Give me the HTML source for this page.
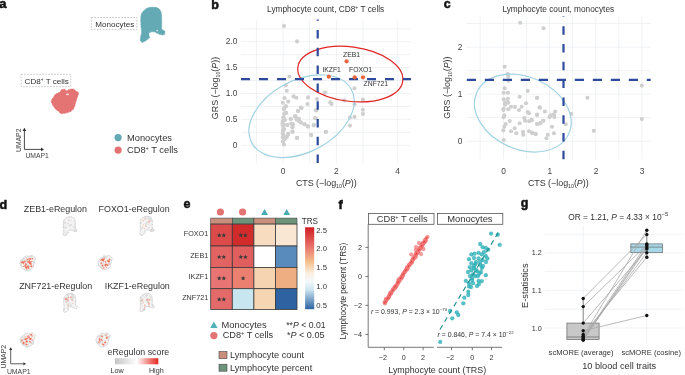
<!DOCTYPE html>
<html><head><meta charset="utf-8"><style>
html,body{margin:0;padding:0;background:#fff;}
svg{display:block;font-family:"Liberation Sans", sans-serif;will-change:transform;}
</style></head><body>
<svg width="685" height="375" viewBox="0 0 685 375">
<text x="-0.8" y="8.2" font-size="13" fill="#111" text-anchor="start" font-weight="bold" stroke="#111" stroke-width="0.5">a</text><rect x="91.4" y="17.5" width="45.5" height="12.1" fill="none" stroke="#b0b0b0" stroke-width="0.7" stroke-dasharray="1.6 1.4"/><text x="95.2" y="26.9" font-size="8.1" fill="#333" text-anchor="start" font-weight="normal" >Monocytes</text><rect x="21.2" y="74.3" width="49.6" height="12.4" fill="none" stroke="#b0b0b0" stroke-width="0.7" stroke-dasharray="1.6 1.4"/><text x="24.6" y="84.1" font-size="8.1" fill="#333" text-anchor="start" font-weight="normal" >CD8<tspan font-size="4.7" dy="-3.1">+</tspan><tspan dy="3.1"> T cells</tspan></text><path d="M152.00,7.30 C153.33,7.28 155.20,7.18 156.50,7.60 C157.80,8.02 158.98,8.73 159.80,9.80 C160.62,10.87 161.08,12.30 161.40,14.00 C161.72,15.70 161.65,18.00 161.70,20.00 C161.75,22.00 161.65,24.40 161.70,26.00 C161.75,27.60 161.55,28.80 162.00,29.60 C162.45,30.40 163.93,30.15 164.40,30.80 C164.87,31.45 165.05,32.80 164.80,33.50 C164.55,34.20 164.07,35.00 162.90,35.00 C161.73,35.00 159.15,34.00 157.80,33.50 C156.45,33.00 156.00,32.25 154.80,32.00 C153.60,31.75 151.60,31.70 150.60,32.00 C149.60,32.30 149.00,32.90 148.80,33.80 C148.60,34.70 149.70,36.40 149.40,37.40 C149.10,38.40 148.10,39.00 147.00,39.80 C145.90,40.60 143.90,42.10 142.80,42.20 C141.70,42.30 140.73,41.40 140.40,40.40 C140.07,39.40 140.60,37.60 140.80,36.20 C141.00,34.80 141.57,33.70 141.60,32.00 C141.63,30.30 141.13,28.40 141.00,26.00 C140.87,23.60 140.63,19.77 140.80,17.60 C140.97,15.43 141.27,14.35 142.00,13.00 C142.73,11.65 144.12,10.38 145.20,9.50 C146.28,8.62 147.37,8.07 148.50,7.70 C149.63,7.33 150.67,7.32 152.00,7.30 Z" fill="#64aab4" stroke="#64aab4" stroke-width="1.0" stroke-linecap="round" stroke-dasharray="0.2 1.4"/><path d="M61.30,89.90 C61.90,89.65 63.58,89.15 64.50,89.30 C65.42,89.45 65.97,90.78 66.80,90.80 C67.63,90.82 68.37,89.65 69.50,89.40 C70.63,89.15 72.47,88.98 73.60,89.30 C74.73,89.62 75.48,90.67 76.30,91.30 C77.12,91.93 78.35,92.05 78.50,93.10 C78.65,94.15 77.65,96.10 77.20,97.60 C76.75,99.10 76.25,100.58 75.80,102.10 C75.35,103.62 75.10,105.33 74.50,106.70 C73.90,108.07 73.33,109.32 72.20,110.30 C71.07,111.28 69.52,112.07 67.70,112.60 C65.88,113.13 62.82,113.73 61.30,113.50 C59.78,113.27 59.50,111.88 58.60,111.20 C57.70,110.52 56.80,110.30 55.90,109.40 C55.00,108.50 53.97,107.17 53.20,105.80 C52.43,104.43 51.30,102.57 51.30,101.20 C51.30,99.83 52.43,98.80 53.20,97.60 C53.97,96.40 54.85,94.83 55.90,94.00 C56.95,93.17 58.67,93.13 59.50,92.60 C60.33,92.07 60.60,91.25 60.90,90.80 C61.20,90.35 60.70,90.15 61.30,89.90 Z" fill="#e47373" stroke="#e47373" stroke-width="1.0" stroke-linecap="round" stroke-dasharray="0.2 1.4"/><ellipse cx="67.5" cy="94.4" rx="1.6" ry="0.8" fill="#f7dede"/><circle cx="157.2" cy="30.6" r="0.8" fill="#d8eaed"/><path d="M24.4,149.4 V130.5 M24.4,149.4 H41.5" stroke="#333" stroke-width="0.9" fill="none"/><path d="M22.5,131 L24.4,127.8 L26.3,131 Z M41,147.5 L44,149.4 L41,151.3 Z" fill="#333"/><text x="25.4" y="158.4" font-size="6.8" fill="#444" text-anchor="start" font-weight="normal" >UMAP1</text><text transform="translate(21,152) rotate(-90)" font-size="6.8" fill="#444">UMAP2</text><circle cx="118.1" cy="137.6" r="3.6" fill="#64aab4"/><circle cx="118.1" cy="150.1" r="3.6" fill="#e47373"/><text x="127" y="140.9" font-size="9.3" fill="#333" text-anchor="start" font-weight="normal" >Monocytes</text><text x="127" y="153.3" font-size="9.3" fill="#333" text-anchor="start" font-weight="normal" >CD8<tspan font-size="5.5" dy="-3.5">+</tspan><tspan dy="3.5"> T cells</tspan></text><text x="211.2" y="9.2" font-size="12.5" fill="#111" text-anchor="start" font-weight="bold" stroke="#111" stroke-width="0.5">b</text><text x="325.7" y="12.2" font-size="8.3" fill="#333" text-anchor="middle" font-weight="normal" >Lymphocyte count, CD8<tspan font-size="5" dy="-3">+</tspan><tspan dy="3"> T cells</tspan></text><line x1="256.4" y1="19.6" x2="256.4" y2="163.3" stroke="#eaecef" stroke-width="0.7"/><line x1="283.2" y1="19.6" x2="283.2" y2="163.3" stroke="#eaecef" stroke-width="0.7"/><line x1="309.6" y1="19.6" x2="309.6" y2="163.3" stroke="#eaecef" stroke-width="0.7"/><line x1="336.4" y1="19.6" x2="336.4" y2="163.3" stroke="#eaecef" stroke-width="0.7"/><line x1="362.9" y1="19.6" x2="362.9" y2="163.3" stroke="#eaecef" stroke-width="0.7"/><line x1="397.7" y1="19.6" x2="397.7" y2="163.3" stroke="#eaecef" stroke-width="0.7"/><line x1="241" y1="28.7" x2="411" y2="28.7" stroke="#eaecef" stroke-width="0.7"/><line x1="241" y1="41.66" x2="411" y2="41.66" stroke="#eaecef" stroke-width="0.7"/><line x1="241" y1="54.620000000000005" x2="411" y2="54.620000000000005" stroke="#eaecef" stroke-width="0.7"/><line x1="241" y1="67.58" x2="411" y2="67.58" stroke="#eaecef" stroke-width="0.7"/><line x1="241" y1="80.54" x2="411" y2="80.54" stroke="#eaecef" stroke-width="0.7"/><line x1="241" y1="93.50000000000001" x2="411" y2="93.50000000000001" stroke="#eaecef" stroke-width="0.7"/><line x1="241" y1="106.46000000000001" x2="411" y2="106.46000000000001" stroke="#eaecef" stroke-width="0.7"/><line x1="241" y1="119.42" x2="411" y2="119.42" stroke="#eaecef" stroke-width="0.7"/><line x1="241" y1="132.38" x2="411" y2="132.38" stroke="#eaecef" stroke-width="0.7"/><line x1="241" y1="145.34" x2="411" y2="145.34" stroke="#eaecef" stroke-width="0.7"/><text x="237.5" y="44.0" font-size="8.4" fill="#444" text-anchor="end" font-weight="normal" >2.0</text><text x="237.5" y="69.89999999999999" font-size="8.4" fill="#444" text-anchor="end" font-weight="normal" >1.5</text><text x="237.5" y="95.8" font-size="8.4" fill="#444" text-anchor="end" font-weight="normal" >1.0</text><text x="237.5" y="121.6" font-size="8.4" fill="#444" text-anchor="end" font-weight="normal" >0.5</text><text x="237.5" y="147.5" font-size="8.4" fill="#444" text-anchor="end" font-weight="normal" >0</text><text x="283.2" y="173.9" font-size="8.4" fill="#444" text-anchor="middle" font-weight="normal" >0</text><text x="336.4" y="173.9" font-size="8.4" fill="#444" text-anchor="middle" font-weight="normal" >2</text><text x="397.7" y="173.9" font-size="8.4" fill="#444" text-anchor="middle" font-weight="normal" >4</text><text x="326.3" y="185.5" font-size="8.9" fill="#333" text-anchor="middle" font-weight="normal" >CTS (−log<tspan font-size="5.2" dy="2">10</tspan><tspan dy="-2">(</tspan><tspan font-style="italic">P</tspan>))</text><text transform="translate(218,88) rotate(-90)" font-size="8.9" fill="#333" text-anchor="middle">GRS (−log<tspan font-size="5.2" dy="2">10</tspan><tspan dy="-2">(</tspan><tspan font-style="italic">P</tspan>))</text><circle cx="284.0" cy="26.0" r="2.05" fill="#cfcfcf"/><circle cx="297.0" cy="41.4" r="2.05" fill="#cfcfcf"/><circle cx="289.4" cy="76.6" r="2.05" fill="#cfcfcf"/><circle cx="285.8" cy="85.4" r="2.05" fill="#cfcfcf"/><circle cx="286.8" cy="90.8" r="2.05" fill="#cfcfcf"/><circle cx="293.6" cy="96.4" r="2.05" fill="#cfcfcf"/><circle cx="296.4" cy="97.7" r="2.05" fill="#cfcfcf"/><circle cx="284.6" cy="98.0" r="2.05" fill="#cfcfcf"/><circle cx="288.2" cy="101.6" r="2.05" fill="#cfcfcf"/><circle cx="282.8" cy="102.8" r="2.05" fill="#cfcfcf"/><circle cx="308.0" cy="97.4" r="2.05" fill="#cfcfcf"/><circle cx="307.4" cy="104.0" r="2.05" fill="#cfcfcf"/><circle cx="317.0" cy="99.0" r="2.05" fill="#cfcfcf"/><circle cx="285.8" cy="106.4" r="2.05" fill="#cfcfcf"/><circle cx="284.0" cy="108.2" r="2.05" fill="#cfcfcf"/><circle cx="300.8" cy="107.6" r="2.05" fill="#cfcfcf"/><circle cx="324.9" cy="92.7" r="2.05" fill="#cfcfcf"/><circle cx="330.3" cy="102.2" r="2.05" fill="#cfcfcf"/><circle cx="331.5" cy="103.9" r="2.05" fill="#cfcfcf"/><circle cx="286.1" cy="112.9" r="2.05" fill="#cfcfcf"/><circle cx="301.5" cy="107.7" r="2.05" fill="#cfcfcf"/><circle cx="298.1" cy="111.2" r="2.05" fill="#cfcfcf"/><circle cx="315.9" cy="110.3" r="2.05" fill="#cfcfcf"/><circle cx="283.5" cy="117.8" r="2.05" fill="#cfcfcf"/><circle cx="295.6" cy="116.0" r="2.05" fill="#cfcfcf"/><circle cx="290.8" cy="119.0" r="2.05" fill="#cfcfcf"/><circle cx="296.9" cy="118.5" r="2.05" fill="#cfcfcf"/><circle cx="298.6" cy="120.7" r="2.05" fill="#cfcfcf"/><circle cx="315.0" cy="118.1" r="2.05" fill="#cfcfcf"/><circle cx="282.5" cy="123.3" r="2.05" fill="#cfcfcf"/><circle cx="287.3" cy="125.0" r="2.05" fill="#cfcfcf"/><circle cx="292.5" cy="124.2" r="2.05" fill="#cfcfcf"/><circle cx="300.8" cy="122.5" r="2.05" fill="#cfcfcf"/><circle cx="304.7" cy="124.2" r="2.05" fill="#cfcfcf"/><circle cx="307.8" cy="126.4" r="2.05" fill="#cfcfcf"/><circle cx="313.7" cy="125.4" r="2.05" fill="#cfcfcf"/><circle cx="283.0" cy="130.3" r="2.05" fill="#cfcfcf"/><circle cx="292.5" cy="126.8" r="2.05" fill="#cfcfcf"/><circle cx="292.5" cy="132.0" r="2.05" fill="#cfcfcf"/><circle cx="288.2" cy="134.6" r="2.05" fill="#cfcfcf"/><circle cx="325.8" cy="132.0" r="2.05" fill="#cfcfcf"/><circle cx="311.2" cy="135.1" r="2.05" fill="#cfcfcf"/><circle cx="296.9" cy="138.1" r="2.05" fill="#cfcfcf"/><circle cx="283.0" cy="137.2" r="2.05" fill="#cfcfcf"/><circle cx="286.5" cy="137.2" r="2.05" fill="#cfcfcf"/><circle cx="283.0" cy="141.5" r="2.05" fill="#cfcfcf"/><circle cx="324.7" cy="92.6" r="2.05" fill="#cfcfcf"/><circle cx="344.3" cy="100.4" r="2.05" fill="#cfcfcf"/><circle cx="354.5" cy="88.3" r="2.05" fill="#cfcfcf"/><circle cx="354.5" cy="104.2" r="2.05" fill="#cfcfcf"/><circle cx="362.9" cy="99.5" r="2.05" fill="#cfcfcf"/><circle cx="362.9" cy="109.8" r="2.05" fill="#cfcfcf"/><circle cx="362.9" cy="113.9" r="2.05" fill="#cfcfcf"/><circle cx="349.9" cy="117.6" r="2.05" fill="#cfcfcf"/><circle cx="354.5" cy="116.9" r="2.05" fill="#cfcfcf"/><circle cx="349.9" cy="125.6" r="2.05" fill="#cfcfcf"/><circle cx="326.0" cy="131.8" r="2.05" fill="#cfcfcf"/><circle cx="284.0" cy="144.5" r="2.05" fill="#cfcfcf"/><circle cx="283.5" cy="128.0" r="2.05" fill="#cfcfcf"/><circle cx="285.0" cy="120.0" r="2.05" fill="#cfcfcf"/><circle cx="284.0" cy="114.0" r="2.05" fill="#cfcfcf"/><circle cx="285.8" cy="106.2" r="2.05" fill="#cfcfcf"/><circle cx="284.0" cy="109.2" r="2.05" fill="#cfcfcf"/><circle cx="285.8" cy="112.8" r="2.05" fill="#cfcfcf"/><circle cx="301.4" cy="108.0" r="2.05" fill="#cfcfcf"/><circle cx="297.8" cy="111.0" r="2.05" fill="#cfcfcf"/><circle cx="283.4" cy="117.6" r="2.05" fill="#cfcfcf"/><circle cx="290.6" cy="118.8" r="2.05" fill="#cfcfcf"/><circle cx="294.8" cy="116.4" r="2.05" fill="#cfcfcf"/><circle cx="296.6" cy="119.4" r="2.05" fill="#cfcfcf"/><circle cx="299.0" cy="118.8" r="2.05" fill="#cfcfcf"/><circle cx="282.8" cy="121.2" r="2.05" fill="#cfcfcf"/><circle cx="282.8" cy="124.2" r="2.05" fill="#cfcfcf"/><circle cx="287.0" cy="124.8" r="2.05" fill="#cfcfcf"/><circle cx="291.2" cy="123.6" r="2.05" fill="#cfcfcf"/><circle cx="293.0" cy="124.2" r="2.05" fill="#cfcfcf"/><circle cx="300.8" cy="122.4" r="2.05" fill="#cfcfcf"/><circle cx="304.4" cy="124.2" r="2.05" fill="#cfcfcf"/><circle cx="308.0" cy="126.6" r="2.05" fill="#cfcfcf"/><circle cx="292.4" cy="127.2" r="2.05" fill="#cfcfcf"/><circle cx="284.0" cy="129.6" r="2.05" fill="#cfcfcf"/><circle cx="292.4" cy="131.4" r="2.05" fill="#cfcfcf"/><circle cx="282.8" cy="133.2" r="2.05" fill="#cfcfcf"/><circle cx="288.2" cy="133.8" r="2.05" fill="#cfcfcf"/><circle cx="282.8" cy="137.4" r="2.05" fill="#cfcfcf"/><circle cx="286.4" cy="137.4" r="2.05" fill="#cfcfcf"/><circle cx="297.2" cy="137.7" r="2.05" fill="#cfcfcf"/><circle cx="282.8" cy="141.6" r="2.05" fill="#cfcfcf"/><circle cx="311.0" cy="134.8" r="2.05" fill="#cfcfcf"/><circle cx="314.0" cy="124.8" r="2.05" fill="#cfcfcf"/><circle cx="315.8" cy="118.2" r="2.05" fill="#cfcfcf"/><circle cx="316.4" cy="110.4" r="2.05" fill="#cfcfcf"/><circle cx="283.0" cy="126.0" r="2.05" fill="#cfcfcf"/><circle cx="283.5" cy="135.5" r="2.05" fill="#cfcfcf"/><circle cx="284.5" cy="139.5" r="2.05" fill="#cfcfcf"/><ellipse cx="301.6" cy="116.22" rx="56.5" ry="35.9" transform="rotate(-28.12 301.6 116.22)" fill="none" stroke="#a2d2e2" stroke-width="1.2"/><ellipse cx="350.32" cy="74.08" rx="52.9" ry="27.15" transform="rotate(7.64 350.32 74.08)" fill="none" stroke="#e02626" stroke-width="1.2"/><line x1="317.7" y1="19.6" x2="317.7" y2="163.3" stroke="#2d4a9c" stroke-width="2.2" stroke-dasharray="8.5 9.3" stroke-dashoffset="7.4"/><line x1="241" y1="79.1" x2="411" y2="79.1" stroke="#2d4a9c" stroke-width="2.2" stroke-dasharray="9 9"/><circle cx="346.6" cy="61.3" r="2.1" fill="#e8653c"/><circle cx="328.8" cy="76.7" r="2.1" fill="#e8653c"/><circle cx="354.7" cy="77.3" r="2.1" fill="#e8653c"/><circle cx="363.0" cy="77.3" r="2.1" fill="#e8653c"/><text x="343" y="57.4" font-size="6.8" fill="#333" text-anchor="start" font-weight="normal" >ZEB1</text><text x="322.4" y="72.4" font-size="6.8" fill="#333" text-anchor="start" font-weight="normal" >IKZF1</text><text x="349" y="72.4" font-size="6.8" fill="#333" text-anchor="start" font-weight="normal" >FOXO1</text><text x="363.6" y="85.8" font-size="6.8" fill="#333" text-anchor="start" font-weight="normal" >ZNF721</text><text x="443.8" y="7.8" font-size="12.5" fill="#111" text-anchor="start" font-weight="bold" stroke="#111" stroke-width="0.5">c</text><text x="558.3" y="12" font-size="8.3" fill="#333" text-anchor="middle" font-weight="normal" >Lymphocyte count, monocytes</text><line x1="480.2" y1="16.4" x2="480.2" y2="159.3" stroke="#eaecef" stroke-width="0.7"/><line x1="503.5" y1="16.4" x2="503.5" y2="159.3" stroke="#eaecef" stroke-width="0.7"/><line x1="526.6" y1="16.4" x2="526.6" y2="159.3" stroke="#eaecef" stroke-width="0.7"/><line x1="549.6" y1="16.4" x2="549.6" y2="159.3" stroke="#eaecef" stroke-width="0.7"/><line x1="572.6" y1="16.4" x2="572.6" y2="159.3" stroke="#eaecef" stroke-width="0.7"/><line x1="595.7" y1="16.4" x2="595.7" y2="159.3" stroke="#eaecef" stroke-width="0.7"/><line x1="618.8" y1="16.4" x2="618.8" y2="159.3" stroke="#eaecef" stroke-width="0.7"/><line x1="641.8" y1="16.4" x2="641.8" y2="159.3" stroke="#eaecef" stroke-width="0.7"/><line x1="466.8" y1="23.5" x2="650.7" y2="23.5" stroke="#eaecef" stroke-width="0.7"/><line x1="466.8" y1="47.2" x2="650.7" y2="47.2" stroke="#eaecef" stroke-width="0.7"/><line x1="466.8" y1="70.7" x2="650.7" y2="70.7" stroke="#eaecef" stroke-width="0.7"/><line x1="466.8" y1="94.1" x2="650.7" y2="94.1" stroke="#eaecef" stroke-width="0.7"/><line x1="466.8" y1="117.5" x2="650.7" y2="117.5" stroke="#eaecef" stroke-width="0.7"/><line x1="466.8" y1="141.3" x2="650.7" y2="141.3" stroke="#eaecef" stroke-width="0.7"/><text x="462.3" y="49.800000000000004" font-size="8.4" fill="#444" text-anchor="end" font-weight="normal" >2</text><text x="462.3" y="96.69999999999999" font-size="8.4" fill="#444" text-anchor="end" font-weight="normal" >1</text><text x="462.3" y="143.9" font-size="8.4" fill="#444" text-anchor="end" font-weight="normal" >0</text><text x="503.6" y="173.9" font-size="8.4" fill="#444" text-anchor="middle" font-weight="normal" >0</text><text x="549.8" y="173.9" font-size="8.4" fill="#444" text-anchor="middle" font-weight="normal" >1</text><text x="596.0" y="173.9" font-size="8.4" fill="#444" text-anchor="middle" font-weight="normal" >2</text><text x="642.0" y="173.9" font-size="8.4" fill="#444" text-anchor="middle" font-weight="normal" >3</text><text x="558.3" y="185.5" font-size="8.9" fill="#333" text-anchor="middle" font-weight="normal" >CTS (−log<tspan font-size="5.2" dy="2">10</tspan><tspan dy="-2">(</tspan><tspan font-style="italic">P</tspan>))</text><text transform="translate(450.4,87.6) rotate(-90)" font-size="8.9" fill="#333" text-anchor="middle">GRS (−log<tspan font-size="5.2" dy="2">10</tspan><tspan dy="-2">(</tspan><tspan font-style="italic">P</tspan>))</text><circle cx="520.2" cy="22.8" r="2.05" fill="#cfcfcf"/><circle cx="543.5" cy="28.3" r="2.05" fill="#cfcfcf"/><circle cx="504.6" cy="66.7" r="2.05" fill="#cfcfcf"/><circle cx="507.7" cy="74.0" r="2.05" fill="#cfcfcf"/><circle cx="508.3" cy="76.7" r="2.05" fill="#cfcfcf"/><circle cx="508.3" cy="80.7" r="2.05" fill="#cfcfcf"/><circle cx="504.6" cy="88.3" r="2.05" fill="#cfcfcf"/><circle cx="503.7" cy="92.7" r="2.05" fill="#cfcfcf"/><circle cx="507.9" cy="92.7" r="2.05" fill="#cfcfcf"/><circle cx="527.7" cy="90.9" r="2.05" fill="#cfcfcf"/><circle cx="519.7" cy="96.7" r="2.05" fill="#cfcfcf"/><circle cx="537.0" cy="98.0" r="2.05" fill="#cfcfcf"/><circle cx="503.7" cy="99.3" r="2.05" fill="#cfcfcf"/><circle cx="507.9" cy="98.7" r="2.05" fill="#cfcfcf"/><circle cx="505.0" cy="102.7" r="2.05" fill="#cfcfcf"/><circle cx="508.3" cy="102.7" r="2.05" fill="#cfcfcf"/><circle cx="526.0" cy="103.3" r="2.05" fill="#cfcfcf"/><circle cx="511.0" cy="106.7" r="2.05" fill="#cfcfcf"/><circle cx="515.0" cy="106.9" r="2.05" fill="#cfcfcf"/><circle cx="521.7" cy="106.7" r="2.05" fill="#cfcfcf"/><circle cx="539.7" cy="107.3" r="2.05" fill="#cfcfcf"/><circle cx="503.7" cy="108.7" r="2.05" fill="#cfcfcf"/><circle cx="507.0" cy="102.0" r="2.05" fill="#cfcfcf"/><circle cx="505.0" cy="104.7" r="2.05" fill="#cfcfcf"/><circle cx="508.3" cy="109.3" r="2.05" fill="#cfcfcf"/><circle cx="519.0" cy="110.0" r="2.05" fill="#cfcfcf"/><circle cx="503.3" cy="110.0" r="2.05" fill="#cfcfcf"/><circle cx="527.7" cy="112.0" r="2.05" fill="#cfcfcf"/><circle cx="529.0" cy="113.3" r="2.05" fill="#cfcfcf"/><circle cx="537.0" cy="115.0" r="2.05" fill="#cfcfcf"/><circle cx="504.3" cy="115.3" r="2.05" fill="#cfcfcf"/><circle cx="503.7" cy="117.3" r="2.05" fill="#cfcfcf"/><circle cx="524.3" cy="118.0" r="2.05" fill="#cfcfcf"/><circle cx="509.7" cy="121.0" r="2.05" fill="#cfcfcf"/><circle cx="525.0" cy="120.7" r="2.05" fill="#cfcfcf"/><circle cx="529.0" cy="121.3" r="2.05" fill="#cfcfcf"/><circle cx="531.7" cy="120.3" r="2.05" fill="#cfcfcf"/><circle cx="519.7" cy="123.3" r="2.05" fill="#cfcfcf"/><circle cx="505.7" cy="124.0" r="2.05" fill="#cfcfcf"/><circle cx="504.3" cy="126.7" r="2.05" fill="#cfcfcf"/><circle cx="537.0" cy="124.0" r="2.05" fill="#cfcfcf"/><circle cx="540.3" cy="123.3" r="2.05" fill="#cfcfcf"/><circle cx="543.0" cy="120.7" r="2.05" fill="#cfcfcf"/><circle cx="514.7" cy="128.3" r="2.05" fill="#cfcfcf"/><circle cx="511.0" cy="131.3" r="2.05" fill="#cfcfcf"/><circle cx="516.3" cy="133.3" r="2.05" fill="#cfcfcf"/><circle cx="503.3" cy="130.4" r="2.05" fill="#cfcfcf"/><circle cx="523.0" cy="131.7" r="2.05" fill="#cfcfcf"/><circle cx="523.3" cy="134.7" r="2.05" fill="#cfcfcf"/><circle cx="529.0" cy="131.3" r="2.05" fill="#cfcfcf"/><circle cx="532.3" cy="133.3" r="2.05" fill="#cfcfcf"/><circle cx="535.7" cy="134.0" r="2.05" fill="#cfcfcf"/><circle cx="503.7" cy="140.0" r="2.05" fill="#cfcfcf"/><circle cx="537.1" cy="97.8" r="2.05" fill="#cfcfcf"/><circle cx="539.7" cy="107.7" r="2.05" fill="#cfcfcf"/><circle cx="544.9" cy="111.5" r="2.05" fill="#cfcfcf"/><circle cx="537.1" cy="114.6" r="2.05" fill="#cfcfcf"/><circle cx="550.5" cy="115.2" r="2.05" fill="#cfcfcf"/><circle cx="553.9" cy="114.3" r="2.05" fill="#cfcfcf"/><circle cx="555.2" cy="111.5" r="2.05" fill="#cfcfcf"/><circle cx="549.6" cy="117.1" r="2.05" fill="#cfcfcf"/><circle cx="554.3" cy="117.1" r="2.05" fill="#cfcfcf"/><circle cx="531.5" cy="119.9" r="2.05" fill="#cfcfcf"/><circle cx="543.4" cy="120.8" r="2.05" fill="#cfcfcf"/><circle cx="537.5" cy="124.0" r="2.05" fill="#cfcfcf"/><circle cx="540.3" cy="123.2" r="2.05" fill="#cfcfcf"/><circle cx="552.0" cy="126.8" r="2.05" fill="#cfcfcf"/><circle cx="571.4" cy="113.9" r="2.05" fill="#cfcfcf"/><circle cx="565.8" cy="124.2" r="2.05" fill="#cfcfcf"/><circle cx="587.5" cy="97.8" r="2.05" fill="#cfcfcf"/><circle cx="593.8" cy="130.7" r="2.05" fill="#cfcfcf"/><circle cx="531.9" cy="132.6" r="2.05" fill="#cfcfcf"/><circle cx="535.6" cy="133.9" r="2.05" fill="#cfcfcf"/><circle cx="547.7" cy="134.8" r="2.05" fill="#cfcfcf"/><circle cx="546.4" cy="138.2" r="2.05" fill="#cfcfcf"/><circle cx="553.9" cy="133.3" r="2.05" fill="#cfcfcf"/><circle cx="641.8" cy="85.6" r="2.05" fill="#cfcfcf"/><circle cx="641.8" cy="119.1" r="2.05" fill="#cfcfcf"/><ellipse cx="522.85" cy="113.06" rx="50.4" ry="36.2" transform="rotate(24.08 522.85 113.06)" fill="none" stroke="#a2d2e2" stroke-width="1.2"/><line x1="563.5" y1="16.4" x2="563.5" y2="159.3" stroke="#2d4a9c" stroke-width="2.2" stroke-dasharray="8.5 9.3" stroke-dashoffset="8.0"/><line x1="466.8" y1="79.9" x2="650.7" y2="79.9" stroke="#2d4a9c" stroke-width="2.2" stroke-dasharray="9.2 8.8"/><defs><filter id="bl" x="-50%" y="-50%" width="200%" height="200%"><feGaussianBlur stdDeviation="0.35"/></filter></defs><text x="-0.5" y="208.6" font-size="12.5" fill="#111" text-anchor="start" font-weight="bold" stroke="#111" stroke-width="0.5">d</text><text x="23.8" y="212.0" font-size="8.9" fill="#333" text-anchor="start" font-weight="normal" >ZEB1-eRegulon</text><text x="98.6" y="212.0" font-size="8.9" fill="#333" text-anchor="start" font-weight="normal" >FOXO1-eRegulon</text><text x="19.2" y="289.0" font-size="8.9" fill="#333" text-anchor="start" font-weight="normal" >ZNF721-eRegulon</text><text x="104.7" y="289.0" font-size="8.9" fill="#333" text-anchor="start" font-weight="normal" >IKZF1-eRegulon</text><path d="M69.76,216.90 C70.51,216.89 71.57,216.84 72.31,217.06 C73.04,217.28 73.71,217.67 74.17,218.24 C74.63,218.81 74.90,219.58 75.08,220.49 C75.26,221.40 75.22,222.63 75.25,223.70 C75.27,224.78 75.22,226.06 75.25,226.92 C75.27,227.78 75.16,228.42 75.42,228.85 C75.67,229.28 76.51,229.14 76.77,229.49 C77.04,229.84 77.14,230.56 77.00,230.94 C76.86,231.31 76.59,231.74 75.93,231.74 C75.27,231.74 73.80,231.21 73.04,230.94 C72.28,230.67 72.02,230.27 71.34,230.13 C70.67,230.00 69.53,229.97 68.97,230.13 C68.40,230.30 68.06,230.62 67.95,231.10 C67.84,231.58 68.46,232.49 68.29,233.03 C68.12,233.56 67.55,233.89 66.93,234.31 C66.31,234.74 65.18,235.55 64.56,235.60 C63.94,235.65 63.39,235.17 63.20,234.64 C63.01,234.10 63.31,233.14 63.43,232.39 C63.54,231.63 63.86,231.05 63.88,230.13 C63.90,229.22 63.61,228.21 63.54,226.92 C63.46,225.63 63.33,223.58 63.43,222.42 C63.52,221.26 63.69,220.68 64.10,219.95 C64.52,219.23 65.30,218.55 65.91,218.08 C66.53,217.61 67.14,217.31 67.78,217.11 C68.42,216.92 69.01,216.91 69.76,216.90 Z" fill="#f5f5f5" stroke="#b0b0b0" stroke-width="0.7" stroke-dasharray="0.9 0.5"/><circle cx="65.1" cy="232.7" r="1.13" fill="#d4d4d4" opacity="0.40"/><circle cx="70.0" cy="225.3" r="1.06" fill="#d4d4d4" opacity="0.62"/><circle cx="74.7" cy="225.0" r="1.13" fill="#d4d4d4" opacity="0.30"/><circle cx="66.4" cy="234.6" r="1.23" fill="#d4d4d4" opacity="0.31"/><circle cx="63.6" cy="227.0" r="1.26" fill="#d4d4d4" opacity="0.45"/><circle cx="66.2" cy="224.8" r="0.62" fill="#d4d4d4" opacity="0.39"/><circle cx="69.2" cy="226.2" r="0.76" fill="#d4d4d4" opacity="0.39"/><circle cx="66.2" cy="225.5" r="0.80" fill="#d4d4d4" opacity="0.31"/><circle cx="74.8" cy="227.3" r="1.05" fill="#d4d4d4" opacity="0.37"/><circle cx="64.9" cy="223.1" r="1.11" fill="#d4d4d4" opacity="0.58"/><circle cx="74.7" cy="229.4" r="0.81" fill="#d4d4d4" opacity="0.54"/><circle cx="70.2" cy="227.9" r="0.62" fill="#d4d4d4" opacity="0.40"/><circle cx="74.2" cy="224.6" r="0.72" fill="#d4d4d4" opacity="0.52"/><circle cx="72.9" cy="229.5" r="0.86" fill="#d4d4d4" opacity="0.48"/><circle cx="70.4" cy="224.3" r="0.94" fill="#d4d4d4" opacity="0.31"/><circle cx="68.6" cy="220.1" r="0.95" fill="#d4d4d4" opacity="0.69"/><circle cx="73.8" cy="227.0" r="1.20" fill="#d4d4d4" opacity="0.39"/><circle cx="71.2" cy="225.5" r="0.79" fill="#d4d4d4" opacity="0.52"/><circle cx="75.4" cy="230.7" r="1.17" fill="#d4d4d4" opacity="0.51"/><circle cx="70.9" cy="224.9" r="0.64" fill="#d4d4d4" opacity="0.65"/><circle cx="71.1" cy="220.6" r="0.95" fill="#d4d4d4" opacity="0.49"/><circle cx="68.1" cy="223.4" r="0.98" fill="#d4d4d4" opacity="0.55"/><circle cx="71.7" cy="225.5" r="0.62" fill="#d4d4d4" opacity="0.39"/><circle cx="65.6" cy="227.8" r="1.20" fill="#d4d4d4" opacity="0.62"/><circle cx="66.7" cy="232.6" r="1.07" fill="#d4d4d4" opacity="0.33"/><circle cx="73.6" cy="221.6" r="0.68" fill="#d4d4d4" opacity="0.55"/><circle cx="68.0" cy="218.2" r="0.71" fill="#d4d4d4" opacity="0.51"/><circle cx="65.5" cy="222.0" r="1.10" fill="#d4d4d4" opacity="0.48"/><circle cx="67.6" cy="225.8" r="0.42" fill="#ef5a3c" opacity="0.29" filter="url(#bl)"/><circle cx="69.0" cy="220.4" r="0.48" fill="#ef5a3c" opacity="0.46" filter="url(#bl)"/><path d="M25.64,256.27 C25.98,256.11 26.94,255.81 27.47,255.90 C28.00,255.99 28.31,256.81 28.79,256.82 C29.27,256.83 29.69,256.11 30.34,255.96 C30.99,255.81 32.04,255.71 32.69,255.90 C33.34,256.09 33.77,256.74 34.24,257.12 C34.71,257.51 35.41,257.58 35.50,258.22 C35.59,258.87 35.01,260.06 34.75,260.98 C34.50,261.89 34.21,262.80 33.95,263.73 C33.69,264.66 33.55,265.71 33.21,266.54 C32.86,267.38 32.54,268.14 31.89,268.74 C31.24,269.34 30.35,269.82 29.31,270.15 C28.26,270.48 26.51,270.84 25.64,270.70 C24.77,270.56 24.60,269.71 24.09,269.29 C23.57,268.88 23.05,268.74 22.54,268.19 C22.02,267.64 21.43,266.83 20.99,265.99 C20.55,265.16 19.90,264.01 19.90,263.18 C19.90,262.34 20.55,261.71 20.99,260.98 C21.43,260.24 21.94,259.28 22.54,258.77 C23.14,258.26 24.12,258.24 24.60,257.92 C25.08,257.59 25.23,257.09 25.41,256.82 C25.58,256.54 25.29,256.42 25.64,256.27 Z" fill="#f5f5f5" stroke="#b0b0b0" stroke-width="0.7" stroke-dasharray="0.9 0.5"/><circle cx="27.0" cy="264.2" r="1.25" fill="#d4d4d4" opacity="0.49"/><circle cx="27.8" cy="264.6" r="0.73" fill="#d4d4d4" opacity="0.50"/><circle cx="29.7" cy="267.6" r="0.67" fill="#d4d4d4" opacity="0.42"/><circle cx="30.7" cy="256.5" r="1.29" fill="#d4d4d4" opacity="0.69"/><circle cx="30.1" cy="265.0" r="0.71" fill="#d4d4d4" opacity="0.31"/><circle cx="28.1" cy="256.8" r="0.73" fill="#d4d4d4" opacity="0.40"/><circle cx="20.4" cy="262.8" r="0.91" fill="#d4d4d4" opacity="0.64"/><circle cx="28.0" cy="265.4" r="0.95" fill="#d4d4d4" opacity="0.56"/><circle cx="27.0" cy="260.0" r="1.30" fill="#d4d4d4" opacity="0.70"/><circle cx="33.0" cy="266.4" r="0.82" fill="#d4d4d4" opacity="0.39"/><circle cx="31.9" cy="261.8" r="1.19" fill="#d4d4d4" opacity="0.45"/><circle cx="34.1" cy="262.9" r="1.29" fill="#d4d4d4" opacity="0.46"/><circle cx="21.0" cy="265.2" r="1.14" fill="#d4d4d4" opacity="0.41"/><circle cx="21.3" cy="260.8" r="1.27" fill="#d4d4d4" opacity="0.60"/><circle cx="32.3" cy="258.5" r="0.99" fill="#d4d4d4" opacity="0.48"/><circle cx="22.9" cy="266.7" r="0.69" fill="#d4d4d4" opacity="0.56"/><circle cx="21.7" cy="262.1" r="0.75" fill="#d4d4d4" opacity="0.41"/><circle cx="24.6" cy="269.0" r="0.75" fill="#d4d4d4" opacity="0.46"/><circle cx="33.2" cy="265.4" r="0.67" fill="#d4d4d4" opacity="0.70"/><circle cx="23.2" cy="259.7" r="1.14" fill="#d4d4d4" opacity="0.43"/><circle cx="21.3" cy="264.5" r="0.77" fill="#d4d4d4" opacity="0.54"/><circle cx="25.7" cy="262.6" r="1.27" fill="#d4d4d4" opacity="0.49"/><circle cx="28.9" cy="268.7" r="0.73" fill="#d4d4d4" opacity="0.36"/><circle cx="23.8" cy="258.7" r="1.12" fill="#d4d4d4" opacity="0.68"/><circle cx="26.5" cy="257.4" r="0.63" fill="#d4d4d4" opacity="0.69"/><circle cx="23.6" cy="266.3" r="0.59" fill="#ef5a3c" opacity="0.76" filter="url(#bl)"/><circle cx="29.2" cy="260.2" r="0.53" fill="#ef5a3c" opacity="0.71" filter="url(#bl)"/><circle cx="28.6" cy="268.5" r="0.86" fill="#ef5a3c" opacity="0.49" filter="url(#bl)"/><circle cx="22.6" cy="261.4" r="0.83" fill="#ef5a3c" opacity="0.42" filter="url(#bl)"/><circle cx="30.7" cy="264.5" r="0.51" fill="#ef5a3c" opacity="0.37" filter="url(#bl)"/><circle cx="27.4" cy="266.7" r="0.64" fill="#ef5a3c" opacity="0.85" filter="url(#bl)"/><circle cx="31.4" cy="266.3" r="0.99" fill="#ef5a3c" opacity="0.81" filter="url(#bl)"/><circle cx="25.4" cy="266.0" r="1.08" fill="#ef5a3c" opacity="0.79" filter="url(#bl)"/><circle cx="26.4" cy="267.6" r="1.05" fill="#ef5a3c" opacity="0.64" filter="url(#bl)"/><circle cx="29.6" cy="261.6" r="0.84" fill="#ef5a3c" opacity="0.65" filter="url(#bl)"/><circle cx="31.3" cy="261.6" r="0.95" fill="#ef5a3c" opacity="0.64" filter="url(#bl)"/><circle cx="26.8" cy="268.3" r="0.46" fill="#ef5a3c" opacity="0.73" filter="url(#bl)"/><circle cx="27.4" cy="259.3" r="0.92" fill="#ef5a3c" opacity="0.60" filter="url(#bl)"/><circle cx="24.6" cy="265.9" r="0.55" fill="#ef5a3c" opacity="0.43" filter="url(#bl)"/><circle cx="26.8" cy="269.1" r="0.65" fill="#ef5a3c" opacity="0.68" filter="url(#bl)"/><circle cx="23.0" cy="262.3" r="1.00" fill="#ef5a3c" opacity="0.81" filter="url(#bl)"/><circle cx="29.0" cy="260.6" r="0.50" fill="#ef5a3c" opacity="0.60" filter="url(#bl)"/><circle cx="26.9" cy="260.0" r="0.56" fill="#ef5a3c" opacity="0.56" filter="url(#bl)"/><circle cx="29.7" cy="263.2" r="0.64" fill="#ef5a3c" opacity="0.77" filter="url(#bl)"/><circle cx="31.0" cy="264.3" r="0.63" fill="#ef5a3c" opacity="0.75" filter="url(#bl)"/><circle cx="32.8" cy="259.4" r="0.51" fill="#ef5a3c" opacity="0.37" filter="url(#bl)"/><circle cx="29.7" cy="262.5" r="0.87" fill="#ef5a3c" opacity="0.68" filter="url(#bl)"/><circle cx="30.6" cy="258.9" r="0.76" fill="#ef5a3c" opacity="0.44" filter="url(#bl)"/><circle cx="31.0" cy="258.6" r="0.60" fill="#ef5a3c" opacity="0.52" filter="url(#bl)"/><circle cx="30.8" cy="263.6" r="0.86" fill="#ef5a3c" opacity="0.73" filter="url(#bl)"/><circle cx="26.0" cy="267.6" r="1.08" fill="#ef5a3c" opacity="0.39" filter="url(#bl)"/><circle cx="21.9" cy="262.6" r="0.87" fill="#ef5a3c" opacity="0.80" filter="url(#bl)"/><circle cx="25.8" cy="264.3" r="1.06" fill="#ef5a3c" opacity="0.75" filter="url(#bl)"/><circle cx="30.1" cy="258.9" r="0.94" fill="#ef5a3c" opacity="0.76" filter="url(#bl)"/><circle cx="29.9" cy="266.5" r="0.56" fill="#ef5a3c" opacity="0.80" filter="url(#bl)"/><circle cx="28.3" cy="267.6" r="0.64" fill="#ef5a3c" opacity="0.80" filter="url(#bl)"/><circle cx="33.3" cy="261.1" r="0.46" fill="#ef5a3c" opacity="0.57" filter="url(#bl)"/><circle cx="28.5" cy="267.3" r="0.77" fill="#ef5a3c" opacity="0.36" filter="url(#bl)"/><circle cx="32.4" cy="258.5" r="0.65" fill="#ef5a3c" opacity="0.74" filter="url(#bl)"/><circle cx="28.0" cy="266.6" r="1.03" fill="#ef5a3c" opacity="0.69" filter="url(#bl)"/><circle cx="23.4" cy="263.7" r="0.62" fill="#ef5a3c" opacity="0.71" filter="url(#bl)"/><circle cx="29.9" cy="263.6" r="1.03" fill="#ef5a3c" opacity="0.63" filter="url(#bl)"/><circle cx="24.8" cy="261.5" r="1.03" fill="#ef5a3c" opacity="0.80" filter="url(#bl)"/><circle cx="28.8" cy="258.9" r="0.80" fill="#ef5a3c" opacity="0.60" filter="url(#bl)"/><circle cx="26.1" cy="267.8" r="0.82" fill="#ef5a3c" opacity="0.60" filter="url(#bl)"/><circle cx="28.3" cy="262.0" r="1.12" fill="#ef5a3c" opacity="0.81" filter="url(#bl)"/><circle cx="24.1" cy="262.9" r="0.50" fill="#ef5a3c" opacity="0.57" filter="url(#bl)"/><path d="M146.66,216.50 C147.42,216.49 148.49,216.44 149.24,216.66 C149.98,216.89 150.66,217.28 151.13,217.85 C151.60,218.43 151.87,219.21 152.05,220.13 C152.23,221.05 152.19,222.29 152.22,223.38 C152.25,224.46 152.19,225.76 152.22,226.63 C152.25,227.49 152.14,228.14 152.39,228.58 C152.65,229.01 153.50,228.87 153.77,229.23 C154.04,229.58 154.14,230.31 154.00,230.69 C153.86,231.07 153.58,231.50 152.91,231.50 C152.24,231.50 150.76,230.96 149.98,230.69 C149.21,230.42 148.95,230.01 148.26,229.88 C147.57,229.74 146.43,229.71 145.85,229.88 C145.28,230.04 144.93,230.36 144.82,230.85 C144.70,231.34 145.34,232.26 145.16,232.80 C144.99,233.34 144.42,233.67 143.79,234.10 C143.16,234.53 142.01,235.35 141.38,235.40 C140.75,235.45 140.19,234.97 140.00,234.43 C139.81,233.88 140.11,232.91 140.23,232.15 C140.34,231.39 140.67,230.80 140.69,229.88 C140.71,228.96 140.42,227.93 140.34,226.63 C140.27,225.33 140.13,223.25 140.23,222.08 C140.33,220.90 140.50,220.32 140.92,219.59 C141.34,218.86 142.13,218.17 142.75,217.69 C143.38,217.21 144.00,216.92 144.65,216.72 C145.30,216.52 145.89,216.51 146.66,216.50 Z" fill="#f5f5f5" stroke="#b0b0b0" stroke-width="0.7" stroke-dasharray="0.9 0.5"/><circle cx="151.7" cy="230.4" r="1.07" fill="#d4d4d4" opacity="0.42"/><circle cx="148.5" cy="228.0" r="1.01" fill="#d4d4d4" opacity="0.36"/><circle cx="146.0" cy="223.9" r="1.11" fill="#d4d4d4" opacity="0.70"/><circle cx="146.2" cy="221.6" r="0.63" fill="#d4d4d4" opacity="0.31"/><circle cx="146.5" cy="222.5" r="0.87" fill="#d4d4d4" opacity="0.66"/><circle cx="147.4" cy="227.1" r="0.77" fill="#d4d4d4" opacity="0.31"/><circle cx="144.6" cy="219.1" r="0.96" fill="#d4d4d4" opacity="0.70"/><circle cx="149.4" cy="219.9" r="1.23" fill="#d4d4d4" opacity="0.62"/><circle cx="150.6" cy="230.0" r="0.92" fill="#d4d4d4" opacity="0.51"/><circle cx="150.1" cy="225.7" r="0.76" fill="#d4d4d4" opacity="0.43"/><circle cx="149.8" cy="219.6" r="1.24" fill="#d4d4d4" opacity="0.41"/><circle cx="153.4" cy="229.8" r="0.95" fill="#d4d4d4" opacity="0.51"/><circle cx="149.1" cy="227.6" r="0.82" fill="#d4d4d4" opacity="0.38"/><circle cx="148.7" cy="217.9" r="1.17" fill="#d4d4d4" opacity="0.59"/><circle cx="150.4" cy="217.6" r="1.06" fill="#d4d4d4" opacity="0.41"/><circle cx="143.2" cy="233.0" r="0.67" fill="#d4d4d4" opacity="0.51"/><circle cx="152.0" cy="221.1" r="0.75" fill="#d4d4d4" opacity="0.65"/><circle cx="140.4" cy="223.3" r="0.72" fill="#d4d4d4" opacity="0.57"/><circle cx="141.2" cy="234.5" r="0.62" fill="#d4d4d4" opacity="0.59"/><circle cx="151.4" cy="219.5" r="0.73" fill="#d4d4d4" opacity="0.58"/><circle cx="145.4" cy="217.3" r="1.29" fill="#d4d4d4" opacity="0.36"/><circle cx="140.5" cy="223.0" r="1.03" fill="#d4d4d4" opacity="0.60"/><circle cx="141.6" cy="222.9" r="0.62" fill="#d4d4d4" opacity="0.48"/><circle cx="150.7" cy="230.5" r="1.23" fill="#d4d4d4" opacity="0.60"/><circle cx="152.1" cy="229.8" r="0.93" fill="#d4d4d4" opacity="0.39"/><circle cx="149.3" cy="222.5" r="0.67" fill="#d4d4d4" opacity="0.48"/><circle cx="148.2" cy="223.9" r="0.96" fill="#d4d4d4" opacity="0.36"/><circle cx="148.5" cy="224.4" r="0.61" fill="#d4d4d4" opacity="0.52"/><circle cx="141.3" cy="228.5" r="0.96" fill="#d4d4d4" opacity="0.69"/><circle cx="143.3" cy="224.9" r="0.59" fill="#ef5a3c" opacity="0.36" filter="url(#bl)"/><circle cx="149.9" cy="221.3" r="0.72" fill="#ef5a3c" opacity="0.33" filter="url(#bl)"/><circle cx="145.7" cy="218.6" r="0.94" fill="#ef5a3c" opacity="0.23" filter="url(#bl)"/><circle cx="143.2" cy="220.6" r="0.79" fill="#ef5a3c" opacity="0.31" filter="url(#bl)"/><circle cx="144.3" cy="228.6" r="0.56" fill="#ef5a3c" opacity="0.47" filter="url(#bl)"/><circle cx="146.1" cy="226.2" r="0.84" fill="#ef5a3c" opacity="0.17" filter="url(#bl)"/><circle cx="145.9" cy="226.4" r="0.54" fill="#ef5a3c" opacity="0.18" filter="url(#bl)"/><circle cx="148.5" cy="222.0" r="1.14" fill="#ef5a3c" opacity="0.28" filter="url(#bl)"/><circle cx="151.8" cy="229.2" r="0.41" fill="#ef5a3c" opacity="0.31" filter="url(#bl)"/><circle cx="145.7" cy="225.7" r="0.56" fill="#ef5a3c" opacity="0.36" filter="url(#bl)"/><circle cx="142.7" cy="227.3" r="0.69" fill="#ef5a3c" opacity="0.31" filter="url(#bl)"/><circle cx="150.6" cy="224.0" r="0.49" fill="#ef5a3c" opacity="0.19" filter="url(#bl)"/><path d="M103.16,256.15 C103.47,256.00 104.36,255.71 104.84,255.80 C105.32,255.89 105.61,256.66 106.05,256.67 C106.49,256.68 106.87,256.00 107.47,255.86 C108.06,255.71 109.03,255.62 109.62,255.80 C110.22,255.98 110.61,256.59 111.04,256.96 C111.47,257.32 112.12,257.39 112.20,258.00 C112.28,258.61 111.75,259.73 111.52,260.60 C111.28,261.47 111.02,262.33 110.78,263.20 C110.54,264.08 110.41,265.08 110.10,265.87 C109.78,266.66 109.48,267.38 108.89,267.95 C108.29,268.52 107.48,268.97 106.52,269.28 C105.57,269.59 103.95,269.93 103.16,269.80 C102.36,269.67 102.21,268.86 101.74,268.47 C101.26,268.07 100.79,267.95 100.32,267.43 C99.85,266.91 99.30,266.14 98.90,265.35 C98.50,264.55 97.90,263.47 97.90,262.68 C97.90,261.89 98.50,261.30 98.90,260.60 C99.30,259.91 99.77,259.00 100.32,258.52 C100.87,258.04 101.77,258.02 102.21,257.71 C102.65,257.40 102.79,256.93 102.95,256.67 C103.10,256.41 102.84,256.29 103.16,256.15 Z" fill="#f5f5f5" stroke="#b0b0b0" stroke-width="0.7" stroke-dasharray="0.9 0.5"/><circle cx="104.7" cy="265.0" r="1.07" fill="#d4d4d4" opacity="0.36"/><circle cx="101.8" cy="267.1" r="1.08" fill="#d4d4d4" opacity="0.54"/><circle cx="105.9" cy="265.1" r="0.70" fill="#d4d4d4" opacity="0.48"/><circle cx="99.0" cy="265.4" r="0.84" fill="#d4d4d4" opacity="0.46"/><circle cx="105.2" cy="257.1" r="1.29" fill="#d4d4d4" opacity="0.68"/><circle cx="99.5" cy="261.7" r="0.69" fill="#d4d4d4" opacity="0.43"/><circle cx="106.8" cy="258.1" r="1.09" fill="#d4d4d4" opacity="0.32"/><circle cx="100.3" cy="267.2" r="0.88" fill="#d4d4d4" opacity="0.47"/><circle cx="106.4" cy="262.5" r="0.87" fill="#d4d4d4" opacity="0.31"/><circle cx="103.0" cy="260.9" r="1.08" fill="#d4d4d4" opacity="0.57"/><circle cx="103.1" cy="263.0" r="1.17" fill="#d4d4d4" opacity="0.50"/><circle cx="104.1" cy="263.1" r="0.76" fill="#d4d4d4" opacity="0.47"/><circle cx="103.5" cy="266.6" r="0.67" fill="#d4d4d4" opacity="0.52"/><circle cx="100.4" cy="265.5" r="0.63" fill="#d4d4d4" opacity="0.41"/><circle cx="102.8" cy="264.7" r="0.64" fill="#d4d4d4" opacity="0.48"/><circle cx="100.9" cy="259.7" r="0.93" fill="#d4d4d4" opacity="0.68"/><circle cx="104.8" cy="269.2" r="0.72" fill="#d4d4d4" opacity="0.67"/><circle cx="103.1" cy="258.4" r="1.12" fill="#d4d4d4" opacity="0.66"/><circle cx="108.9" cy="260.6" r="0.77" fill="#d4d4d4" opacity="0.30"/><circle cx="105.1" cy="256.1" r="0.83" fill="#d4d4d4" opacity="0.61"/><circle cx="109.8" cy="264.8" r="0.76" fill="#d4d4d4" opacity="0.51"/><circle cx="104.7" cy="264.6" r="0.78" fill="#d4d4d4" opacity="0.68"/><circle cx="105.3" cy="265.5" r="0.93" fill="#ef5a3c" opacity="0.46" filter="url(#bl)"/><circle cx="102.0" cy="259.4" r="0.91" fill="#ef5a3c" opacity="0.70" filter="url(#bl)"/><circle cx="103.9" cy="259.2" r="0.73" fill="#ef5a3c" opacity="0.84" filter="url(#bl)"/><circle cx="105.9" cy="264.5" r="1.09" fill="#ef5a3c" opacity="0.83" filter="url(#bl)"/><circle cx="108.8" cy="261.6" r="0.84" fill="#ef5a3c" opacity="0.80" filter="url(#bl)"/><circle cx="109.2" cy="263.9" r="0.66" fill="#ef5a3c" opacity="0.53" filter="url(#bl)"/><circle cx="108.4" cy="263.7" r="0.41" fill="#ef5a3c" opacity="0.71" filter="url(#bl)"/><circle cx="105.5" cy="266.8" r="0.68" fill="#ef5a3c" opacity="0.40" filter="url(#bl)"/><circle cx="103.0" cy="260.2" r="1.10" fill="#ef5a3c" opacity="0.69" filter="url(#bl)"/><circle cx="105.6" cy="264.5" r="0.49" fill="#ef5a3c" opacity="0.62" filter="url(#bl)"/><circle cx="107.9" cy="261.3" r="0.58" fill="#ef5a3c" opacity="0.55" filter="url(#bl)"/><circle cx="102.5" cy="265.4" r="0.51" fill="#ef5a3c" opacity="0.40" filter="url(#bl)"/><circle cx="102.4" cy="265.5" r="0.97" fill="#ef5a3c" opacity="0.68" filter="url(#bl)"/><circle cx="104.2" cy="258.3" r="0.90" fill="#ef5a3c" opacity="0.52" filter="url(#bl)"/><circle cx="101.3" cy="260.4" r="1.11" fill="#ef5a3c" opacity="0.35" filter="url(#bl)"/><circle cx="103.1" cy="259.7" r="0.55" fill="#ef5a3c" opacity="0.57" filter="url(#bl)"/><circle cx="105.1" cy="265.6" r="0.52" fill="#ef5a3c" opacity="0.58" filter="url(#bl)"/><circle cx="106.6" cy="267.6" r="0.59" fill="#ef5a3c" opacity="0.58" filter="url(#bl)"/><circle cx="101.2" cy="263.3" r="0.97" fill="#ef5a3c" opacity="0.55" filter="url(#bl)"/><circle cx="107.5" cy="265.1" r="1.13" fill="#ef5a3c" opacity="0.63" filter="url(#bl)"/><circle cx="107.6" cy="260.7" r="0.95" fill="#ef5a3c" opacity="0.51" filter="url(#bl)"/><circle cx="105.0" cy="260.9" r="0.63" fill="#ef5a3c" opacity="0.42" filter="url(#bl)"/><circle cx="101.1" cy="263.4" r="0.59" fill="#ef5a3c" opacity="0.37" filter="url(#bl)"/><circle cx="109.4" cy="259.8" r="1.10" fill="#ef5a3c" opacity="0.65" filter="url(#bl)"/><circle cx="103.5" cy="268.0" r="1.07" fill="#ef5a3c" opacity="0.51" filter="url(#bl)"/><circle cx="109.1" cy="261.6" r="0.86" fill="#ef5a3c" opacity="0.48" filter="url(#bl)"/><circle cx="103.7" cy="261.1" r="0.69" fill="#ef5a3c" opacity="0.55" filter="url(#bl)"/><circle cx="109.4" cy="258.2" r="0.55" fill="#ef5a3c" opacity="0.48" filter="url(#bl)"/><circle cx="103.0" cy="266.1" r="0.63" fill="#ef5a3c" opacity="0.42" filter="url(#bl)"/><circle cx="105.6" cy="262.1" r="0.80" fill="#ef5a3c" opacity="0.68" filter="url(#bl)"/><path d="M70.06,293.70 C70.81,293.69 71.87,293.64 72.61,293.86 C73.34,294.08 74.01,294.46 74.47,295.03 C74.93,295.60 75.20,296.36 75.38,297.27 C75.56,298.18 75.52,299.40 75.55,300.47 C75.57,301.53 75.52,302.81 75.55,303.67 C75.57,304.52 75.46,305.16 75.72,305.58 C75.97,306.01 76.81,305.88 77.07,306.22 C77.34,306.57 77.44,307.29 77.30,307.66 C77.16,308.04 76.89,308.46 76.23,308.46 C75.57,308.46 74.10,307.93 73.34,307.66 C72.58,307.40 72.32,307.00 71.64,306.86 C70.97,306.73 69.83,306.70 69.27,306.86 C68.70,307.02 68.36,307.34 68.25,307.82 C68.14,308.30 68.76,309.21 68.59,309.74 C68.42,310.27 67.85,310.59 67.23,311.02 C66.61,311.45 65.48,312.25 64.86,312.30 C64.24,312.35 63.69,311.87 63.50,311.34 C63.31,310.81 63.61,309.85 63.73,309.10 C63.84,308.36 64.16,307.77 64.18,306.86 C64.20,305.96 63.91,304.95 63.84,303.67 C63.76,302.39 63.63,300.34 63.73,299.19 C63.82,298.03 63.99,297.46 64.40,296.74 C64.82,296.02 65.60,295.34 66.21,294.87 C66.83,294.40 67.44,294.11 68.08,293.91 C68.72,293.72 69.31,293.71 70.06,293.70 Z" fill="#f5f5f5" stroke="#b0b0b0" stroke-width="0.7" stroke-dasharray="0.9 0.5"/><circle cx="66.8" cy="303.8" r="0.86" fill="#d4d4d4" opacity="0.54"/><circle cx="72.1" cy="294.9" r="0.61" fill="#d4d4d4" opacity="0.63"/><circle cx="67.1" cy="298.1" r="1.30" fill="#d4d4d4" opacity="0.49"/><circle cx="75.0" cy="302.6" r="1.05" fill="#d4d4d4" opacity="0.36"/><circle cx="72.8" cy="294.9" r="1.13" fill="#d4d4d4" opacity="0.54"/><circle cx="67.7" cy="294.3" r="1.21" fill="#d4d4d4" opacity="0.49"/><circle cx="65.4" cy="297.7" r="1.28" fill="#d4d4d4" opacity="0.47"/><circle cx="72.1" cy="299.3" r="0.96" fill="#d4d4d4" opacity="0.45"/><circle cx="68.3" cy="304.6" r="1.01" fill="#d4d4d4" opacity="0.66"/><circle cx="72.8" cy="296.7" r="1.20" fill="#d4d4d4" opacity="0.69"/><circle cx="73.4" cy="297.6" r="1.18" fill="#d4d4d4" opacity="0.53"/><circle cx="67.4" cy="294.9" r="1.20" fill="#d4d4d4" opacity="0.70"/><circle cx="64.7" cy="308.6" r="0.89" fill="#d4d4d4" opacity="0.36"/><circle cx="67.6" cy="308.0" r="1.21" fill="#d4d4d4" opacity="0.32"/><circle cx="72.0" cy="294.5" r="1.10" fill="#d4d4d4" opacity="0.43"/><circle cx="67.8" cy="295.1" r="1.02" fill="#d4d4d4" opacity="0.31"/><circle cx="66.2" cy="301.3" r="1.03" fill="#d4d4d4" opacity="0.36"/><circle cx="64.1" cy="309.8" r="0.82" fill="#d4d4d4" opacity="0.68"/><circle cx="69.9" cy="303.4" r="1.05" fill="#d4d4d4" opacity="0.54"/><circle cx="71.2" cy="305.2" r="1.26" fill="#d4d4d4" opacity="0.50"/><circle cx="66.8" cy="299.3" r="1.28" fill="#d4d4d4" opacity="0.51"/><circle cx="71.1" cy="293.9" r="0.89" fill="#d4d4d4" opacity="0.53"/><circle cx="72.2" cy="294.8" r="1.04" fill="#d4d4d4" opacity="0.49"/><circle cx="72.9" cy="300.3" r="1.09" fill="#d4d4d4" opacity="0.60"/><circle cx="67.0" cy="302.2" r="1.01" fill="#d4d4d4" opacity="0.43"/><circle cx="68.5" cy="299.5" r="0.86" fill="#d4d4d4" opacity="0.54"/><circle cx="67.6" cy="300.7" r="1.14" fill="#d4d4d4" opacity="0.31"/><circle cx="67.8" cy="297.8" r="1.16" fill="#d4d4d4" opacity="0.40"/><circle cx="66.1" cy="301.8" r="0.92" fill="#ef5a3c" opacity="0.19" filter="url(#bl)"/><circle cx="67.9" cy="299.9" r="1.03" fill="#ef5a3c" opacity="0.30" filter="url(#bl)"/><circle cx="68.1" cy="305.8" r="1.06" fill="#ef5a3c" opacity="0.31" filter="url(#bl)"/><circle cx="70.8" cy="297.2" r="1.01" fill="#ef5a3c" opacity="0.44" filter="url(#bl)"/><circle cx="66.0" cy="298.9" r="1.01" fill="#ef5a3c" opacity="0.37" filter="url(#bl)"/><circle cx="65.3" cy="299.1" r="1.00" fill="#ef5a3c" opacity="0.24" filter="url(#bl)"/><circle cx="68.3" cy="301.5" r="0.71" fill="#ef5a3c" opacity="0.29" filter="url(#bl)"/><circle cx="72.6" cy="303.4" r="0.62" fill="#ef5a3c" opacity="0.27" filter="url(#bl)"/><circle cx="71.6" cy="299.0" r="1.01" fill="#ef5a3c" opacity="0.17" filter="url(#bl)"/><circle cx="65.9" cy="299.3" r="0.90" fill="#ef5a3c" opacity="0.33" filter="url(#bl)"/><circle cx="71.9" cy="300.0" r="0.59" fill="#ef5a3c" opacity="0.45" filter="url(#bl)"/><circle cx="68.4" cy="297.4" r="0.80" fill="#ef5a3c" opacity="0.44" filter="url(#bl)"/><path d="M25.59,333.44 C25.92,333.30 26.86,333.01 27.38,333.10 C27.89,333.19 28.20,333.95 28.66,333.96 C29.13,333.97 29.54,333.30 30.17,333.16 C30.80,333.01 31.83,332.92 32.46,333.10 C33.10,333.28 33.51,333.88 33.97,334.25 C34.43,334.61 35.12,334.68 35.20,335.28 C35.28,335.89 34.73,337.01 34.47,337.87 C34.22,338.73 33.94,339.58 33.69,340.45 C33.44,341.32 33.30,342.31 32.96,343.09 C32.63,343.88 32.31,344.60 31.68,345.16 C31.05,345.73 30.18,346.18 29.16,346.48 C28.15,346.79 26.44,347.13 25.59,347.00 C24.74,346.87 24.58,346.07 24.08,345.68 C23.58,345.29 23.07,345.16 22.57,344.65 C22.07,344.13 21.49,343.36 21.06,342.58 C20.63,341.79 20.00,340.72 20.00,339.94 C20.00,339.15 20.63,338.56 21.06,337.87 C21.49,337.18 21.98,336.28 22.57,335.80 C23.16,335.32 24.12,335.30 24.58,335.00 C25.05,334.69 25.20,334.22 25.36,333.96 C25.53,333.70 25.25,333.59 25.59,333.44 Z" fill="#f5f5f5" stroke="#b0b0b0" stroke-width="0.7" stroke-dasharray="0.9 0.5"/><circle cx="23.9" cy="342.6" r="1.08" fill="#d4d4d4" opacity="0.64"/><circle cx="22.8" cy="336.3" r="0.70" fill="#d4d4d4" opacity="0.39"/><circle cx="31.2" cy="334.9" r="0.97" fill="#d4d4d4" opacity="0.39"/><circle cx="24.5" cy="339.1" r="1.19" fill="#d4d4d4" opacity="0.54"/><circle cx="32.6" cy="343.5" r="1.26" fill="#d4d4d4" opacity="0.62"/><circle cx="23.9" cy="344.9" r="0.94" fill="#d4d4d4" opacity="0.60"/><circle cx="28.6" cy="339.1" r="0.85" fill="#d4d4d4" opacity="0.47"/><circle cx="28.4" cy="343.5" r="0.69" fill="#d4d4d4" opacity="0.57"/><circle cx="26.7" cy="335.6" r="0.74" fill="#d4d4d4" opacity="0.51"/><circle cx="23.9" cy="339.5" r="1.02" fill="#d4d4d4" opacity="0.46"/><circle cx="22.0" cy="339.9" r="0.76" fill="#d4d4d4" opacity="0.39"/><circle cx="23.0" cy="338.2" r="0.65" fill="#d4d4d4" opacity="0.56"/><circle cx="29.7" cy="335.3" r="0.89" fill="#d4d4d4" opacity="0.65"/><circle cx="23.1" cy="345.0" r="0.86" fill="#d4d4d4" opacity="0.59"/><circle cx="29.2" cy="343.1" r="0.75" fill="#d4d4d4" opacity="0.55"/><circle cx="28.8" cy="341.3" r="0.85" fill="#d4d4d4" opacity="0.59"/><circle cx="25.2" cy="337.2" r="0.72" fill="#d4d4d4" opacity="0.57"/><circle cx="21.1" cy="342.0" r="0.99" fill="#d4d4d4" opacity="0.52"/><circle cx="20.6" cy="339.2" r="0.84" fill="#d4d4d4" opacity="0.34"/><circle cx="21.8" cy="337.3" r="0.79" fill="#d4d4d4" opacity="0.54"/><circle cx="21.2" cy="339.6" r="0.86" fill="#d4d4d4" opacity="0.63"/><circle cx="27.5" cy="346.6" r="0.96" fill="#d4d4d4" opacity="0.49"/><circle cx="30.2" cy="337.2" r="0.62" fill="#d4d4d4" opacity="0.50"/><circle cx="23.9" cy="342.6" r="1.04" fill="#ef5a3c" opacity="0.48" filter="url(#bl)"/><circle cx="28.9" cy="338.0" r="0.58" fill="#ef5a3c" opacity="0.49" filter="url(#bl)"/><circle cx="23.1" cy="338.0" r="0.43" fill="#ef5a3c" opacity="0.55" filter="url(#bl)"/><circle cx="31.8" cy="335.7" r="0.76" fill="#ef5a3c" opacity="0.63" filter="url(#bl)"/><circle cx="25.1" cy="337.1" r="0.73" fill="#ef5a3c" opacity="0.42" filter="url(#bl)"/><circle cx="32.5" cy="336.1" r="0.63" fill="#ef5a3c" opacity="0.54" filter="url(#bl)"/><circle cx="25.5" cy="339.2" r="1.06" fill="#ef5a3c" opacity="0.84" filter="url(#bl)"/><circle cx="27.3" cy="338.3" r="0.66" fill="#ef5a3c" opacity="0.75" filter="url(#bl)"/><circle cx="23.2" cy="343.1" r="0.90" fill="#ef5a3c" opacity="0.82" filter="url(#bl)"/><circle cx="26.7" cy="341.1" r="0.87" fill="#ef5a3c" opacity="0.77" filter="url(#bl)"/><circle cx="22.1" cy="340.5" r="1.01" fill="#ef5a3c" opacity="0.62" filter="url(#bl)"/><circle cx="31.0" cy="334.6" r="0.94" fill="#ef5a3c" opacity="0.78" filter="url(#bl)"/><circle cx="26.5" cy="341.7" r="1.02" fill="#ef5a3c" opacity="0.71" filter="url(#bl)"/><circle cx="24.4" cy="343.7" r="0.48" fill="#ef5a3c" opacity="0.50" filter="url(#bl)"/><circle cx="24.1" cy="344.0" r="0.74" fill="#ef5a3c" opacity="0.35" filter="url(#bl)"/><circle cx="27.4" cy="336.7" r="0.75" fill="#ef5a3c" opacity="0.80" filter="url(#bl)"/><circle cx="28.2" cy="335.8" r="0.68" fill="#ef5a3c" opacity="0.59" filter="url(#bl)"/><circle cx="22.9" cy="341.1" r="0.43" fill="#ef5a3c" opacity="0.76" filter="url(#bl)"/><circle cx="29.0" cy="337.4" r="1.06" fill="#ef5a3c" opacity="0.60" filter="url(#bl)"/><circle cx="27.9" cy="344.7" r="0.56" fill="#ef5a3c" opacity="0.72" filter="url(#bl)"/><circle cx="29.9" cy="339.1" r="1.12" fill="#ef5a3c" opacity="0.36" filter="url(#bl)"/><circle cx="27.4" cy="341.6" r="0.58" fill="#ef5a3c" opacity="0.62" filter="url(#bl)"/><circle cx="31.5" cy="337.8" r="0.57" fill="#ef5a3c" opacity="0.38" filter="url(#bl)"/><circle cx="30.6" cy="339.0" r="1.09" fill="#ef5a3c" opacity="0.72" filter="url(#bl)"/><circle cx="31.0" cy="342.4" r="0.84" fill="#ef5a3c" opacity="0.48" filter="url(#bl)"/><circle cx="29.8" cy="341.6" r="0.78" fill="#ef5a3c" opacity="0.74" filter="url(#bl)"/><circle cx="32.4" cy="340.0" r="0.83" fill="#ef5a3c" opacity="0.56" filter="url(#bl)"/><circle cx="30.4" cy="338.3" r="0.46" fill="#ef5a3c" opacity="0.59" filter="url(#bl)"/><circle cx="26.3" cy="344.4" r="0.99" fill="#ef5a3c" opacity="0.84" filter="url(#bl)"/><circle cx="26.8" cy="338.8" r="0.82" fill="#ef5a3c" opacity="0.72" filter="url(#bl)"/><path d="M146.71,293.70 C147.47,293.69 148.53,293.64 149.27,293.86 C150.01,294.07 150.69,294.44 151.15,295.00 C151.62,295.55 151.88,296.29 152.06,297.17 C152.24,298.06 152.21,299.25 152.23,300.29 C152.26,301.32 152.21,302.57 152.23,303.40 C152.26,304.23 152.15,304.85 152.40,305.27 C152.66,305.68 153.51,305.55 153.77,305.89 C154.04,306.22 154.14,306.92 154.00,307.29 C153.86,307.65 153.58,308.07 152.92,308.07 C152.25,308.07 150.78,307.55 150.01,307.29 C149.24,307.03 148.99,306.64 148.30,306.51 C147.62,306.38 146.48,306.35 145.91,306.51 C145.34,306.67 145.00,306.98 144.89,307.44 C144.77,307.91 145.40,308.79 145.23,309.31 C145.06,309.83 144.49,310.14 143.86,310.56 C143.23,310.97 142.09,311.75 141.47,311.80 C140.84,311.85 140.29,311.39 140.10,310.87 C139.91,310.35 140.21,309.41 140.33,308.69 C140.44,307.96 140.76,307.39 140.78,306.51 C140.80,305.63 140.52,304.64 140.44,303.40 C140.37,302.15 140.23,300.17 140.33,299.04 C140.42,297.92 140.59,297.36 141.01,296.66 C141.43,295.96 142.22,295.30 142.83,294.84 C143.45,294.38 144.07,294.10 144.71,293.91 C145.36,293.72 145.95,293.71 146.71,293.70 Z" fill="#f5f5f5" stroke="#b0b0b0" stroke-width="0.7" stroke-dasharray="0.9 0.5"/><circle cx="143.4" cy="295.6" r="0.88" fill="#d4d4d4" opacity="0.36"/><circle cx="141.0" cy="301.0" r="1.24" fill="#d4d4d4" opacity="0.62"/><circle cx="150.7" cy="297.7" r="0.98" fill="#d4d4d4" opacity="0.41"/><circle cx="142.5" cy="295.6" r="0.75" fill="#d4d4d4" opacity="0.67"/><circle cx="151.2" cy="297.2" r="0.82" fill="#d4d4d4" opacity="0.55"/><circle cx="148.5" cy="305.9" r="0.95" fill="#d4d4d4" opacity="0.37"/><circle cx="146.7" cy="295.3" r="1.25" fill="#d4d4d4" opacity="0.65"/><circle cx="147.7" cy="299.1" r="1.24" fill="#d4d4d4" opacity="0.53"/><circle cx="147.2" cy="301.2" r="1.02" fill="#d4d4d4" opacity="0.47"/><circle cx="142.3" cy="299.2" r="1.17" fill="#d4d4d4" opacity="0.32"/><circle cx="140.7" cy="305.0" r="0.80" fill="#d4d4d4" opacity="0.51"/><circle cx="146.7" cy="299.9" r="1.30" fill="#d4d4d4" opacity="0.38"/><circle cx="145.8" cy="297.4" r="1.04" fill="#d4d4d4" opacity="0.41"/><circle cx="145.0" cy="307.2" r="0.82" fill="#d4d4d4" opacity="0.52"/><circle cx="141.0" cy="297.8" r="1.14" fill="#d4d4d4" opacity="0.55"/><circle cx="143.4" cy="299.7" r="0.72" fill="#d4d4d4" opacity="0.48"/><circle cx="144.2" cy="297.2" r="0.91" fill="#d4d4d4" opacity="0.35"/><circle cx="151.0" cy="300.3" r="0.80" fill="#d4d4d4" opacity="0.34"/><circle cx="143.0" cy="294.8" r="0.64" fill="#d4d4d4" opacity="0.37"/><circle cx="149.5" cy="296.4" r="0.63" fill="#d4d4d4" opacity="0.50"/><circle cx="141.8" cy="303.3" r="1.14" fill="#d4d4d4" opacity="0.46"/><circle cx="143.5" cy="301.1" r="0.63" fill="#d4d4d4" opacity="0.47"/><circle cx="143.6" cy="309.8" r="1.18" fill="#d4d4d4" opacity="0.50"/><circle cx="140.5" cy="298.3" r="0.77" fill="#d4d4d4" opacity="0.38"/><circle cx="143.3" cy="309.4" r="0.70" fill="#d4d4d4" opacity="0.32"/><circle cx="152.6" cy="305.5" r="1.15" fill="#d4d4d4" opacity="0.60"/><circle cx="147.0" cy="295.4" r="0.75" fill="#d4d4d4" opacity="0.65"/><circle cx="144.8" cy="305.6" r="1.00" fill="#ef5a3c" opacity="0.37" filter="url(#bl)"/><circle cx="149.2" cy="306.1" r="0.60" fill="#ef5a3c" opacity="0.47" filter="url(#bl)"/><circle cx="148.9" cy="304.0" r="0.96" fill="#ef5a3c" opacity="0.47" filter="url(#bl)"/><circle cx="149.4" cy="299.7" r="1.07" fill="#ef5a3c" opacity="0.42" filter="url(#bl)"/><circle cx="146.7" cy="303.2" r="0.42" fill="#ef5a3c" opacity="0.16" filter="url(#bl)"/><circle cx="148.4" cy="302.5" r="1.05" fill="#ef5a3c" opacity="0.36" filter="url(#bl)"/><circle cx="142.0" cy="300.3" r="0.98" fill="#ef5a3c" opacity="0.33" filter="url(#bl)"/><circle cx="147.7" cy="300.6" r="0.99" fill="#ef5a3c" opacity="0.26" filter="url(#bl)"/><circle cx="143.3" cy="302.5" r="1.12" fill="#ef5a3c" opacity="0.18" filter="url(#bl)"/><circle cx="144.3" cy="308.8" r="0.72" fill="#ef5a3c" opacity="0.43" filter="url(#bl)"/><circle cx="142.4" cy="309.5" r="0.53" fill="#ef5a3c" opacity="0.20" filter="url(#bl)"/><circle cx="147.0" cy="299.8" r="0.81" fill="#ef5a3c" opacity="0.47" filter="url(#bl)"/><path d="M101.08,333.44 C101.39,333.30 102.27,333.01 102.74,333.10 C103.22,333.19 103.50,333.95 103.93,333.96 C104.37,333.97 104.75,333.30 105.33,333.16 C105.92,333.01 106.87,332.92 107.46,333.10 C108.05,333.28 108.44,333.88 108.86,334.25 C109.28,334.61 109.92,334.68 110.00,335.28 C110.08,335.89 109.56,337.01 109.33,337.87 C109.09,338.73 108.83,339.58 108.60,340.45 C108.37,341.32 108.24,342.31 107.93,343.09 C107.62,343.88 107.32,344.60 106.73,345.16 C106.15,345.73 105.34,346.18 104.40,346.48 C103.46,346.79 101.87,347.13 101.08,347.00 C100.30,346.87 100.15,346.07 99.68,345.68 C99.22,345.29 98.75,345.16 98.28,344.65 C97.82,344.13 97.28,343.36 96.88,342.58 C96.49,341.79 95.90,340.72 95.90,339.94 C95.90,339.15 96.49,338.56 96.88,337.87 C97.28,337.18 97.74,336.28 98.28,335.80 C98.83,335.32 99.72,335.30 100.15,335.00 C100.58,334.69 100.72,334.22 100.88,333.96 C101.03,333.70 100.77,333.59 101.08,333.44 Z" fill="#f5f5f5" stroke="#b0b0b0" stroke-width="0.7" stroke-dasharray="0.9 0.5"/><circle cx="97.4" cy="342.9" r="1.06" fill="#d4d4d4" opacity="0.68"/><circle cx="99.7" cy="336.7" r="1.11" fill="#d4d4d4" opacity="0.56"/><circle cx="100.2" cy="342.6" r="0.88" fill="#d4d4d4" opacity="0.61"/><circle cx="108.6" cy="338.1" r="0.78" fill="#d4d4d4" opacity="0.62"/><circle cx="104.8" cy="335.2" r="0.99" fill="#d4d4d4" opacity="0.57"/><circle cx="98.2" cy="342.2" r="0.69" fill="#d4d4d4" opacity="0.43"/><circle cx="104.5" cy="345.2" r="1.08" fill="#d4d4d4" opacity="0.34"/><circle cx="104.2" cy="341.9" r="0.73" fill="#d4d4d4" opacity="0.34"/><circle cx="108.2" cy="340.2" r="0.74" fill="#d4d4d4" opacity="0.48"/><circle cx="99.0" cy="344.2" r="0.95" fill="#d4d4d4" opacity="0.34"/><circle cx="107.4" cy="334.3" r="0.80" fill="#d4d4d4" opacity="0.31"/><circle cx="106.3" cy="334.7" r="0.97" fill="#d4d4d4" opacity="0.34"/><circle cx="102.7" cy="342.6" r="0.97" fill="#d4d4d4" opacity="0.48"/><circle cx="102.7" cy="339.2" r="1.02" fill="#d4d4d4" opacity="0.34"/><circle cx="102.6" cy="336.4" r="1.21" fill="#d4d4d4" opacity="0.68"/><circle cx="105.8" cy="341.0" r="0.61" fill="#d4d4d4" opacity="0.58"/><circle cx="100.8" cy="341.0" r="1.26" fill="#d4d4d4" opacity="0.41"/><circle cx="100.2" cy="335.7" r="1.04" fill="#d4d4d4" opacity="0.49"/><circle cx="99.5" cy="338.5" r="0.62" fill="#d4d4d4" opacity="0.42"/><circle cx="101.0" cy="336.6" r="0.62" fill="#d4d4d4" opacity="0.36"/><circle cx="98.7" cy="336.3" r="1.21" fill="#d4d4d4" opacity="0.41"/><circle cx="99.4" cy="341.5" r="1.09" fill="#ef5a3c" opacity="0.50" filter="url(#bl)"/><circle cx="106.6" cy="338.2" r="0.82" fill="#ef5a3c" opacity="0.65" filter="url(#bl)"/><circle cx="103.1" cy="344.8" r="0.67" fill="#ef5a3c" opacity="0.54" filter="url(#bl)"/><circle cx="106.8" cy="337.5" r="1.09" fill="#ef5a3c" opacity="0.66" filter="url(#bl)"/><circle cx="102.5" cy="337.8" r="0.60" fill="#ef5a3c" opacity="0.40" filter="url(#bl)"/><circle cx="98.7" cy="342.7" r="0.51" fill="#ef5a3c" opacity="0.48" filter="url(#bl)"/><circle cx="102.2" cy="340.7" r="0.69" fill="#ef5a3c" opacity="0.74" filter="url(#bl)"/><circle cx="99.5" cy="338.2" r="0.72" fill="#ef5a3c" opacity="0.41" filter="url(#bl)"/><circle cx="106.1" cy="335.1" r="0.90" fill="#ef5a3c" opacity="0.46" filter="url(#bl)"/><circle cx="105.0" cy="342.2" r="0.67" fill="#ef5a3c" opacity="0.82" filter="url(#bl)"/><circle cx="105.2" cy="340.8" r="0.43" fill="#ef5a3c" opacity="0.55" filter="url(#bl)"/><circle cx="99.7" cy="339.6" r="1.10" fill="#ef5a3c" opacity="0.78" filter="url(#bl)"/><circle cx="107.1" cy="337.3" r="0.50" fill="#ef5a3c" opacity="0.54" filter="url(#bl)"/><circle cx="102.2" cy="344.0" r="0.77" fill="#ef5a3c" opacity="0.61" filter="url(#bl)"/><circle cx="99.4" cy="342.6" r="0.88" fill="#ef5a3c" opacity="0.35" filter="url(#bl)"/><circle cx="101.5" cy="339.3" r="0.66" fill="#ef5a3c" opacity="0.82" filter="url(#bl)"/><circle cx="103.3" cy="344.7" r="0.73" fill="#ef5a3c" opacity="0.80" filter="url(#bl)"/><circle cx="104.0" cy="344.1" r="0.72" fill="#ef5a3c" opacity="0.69" filter="url(#bl)"/><circle cx="101.4" cy="340.3" r="0.49" fill="#ef5a3c" opacity="0.46" filter="url(#bl)"/><circle cx="108.0" cy="336.5" r="0.47" fill="#ef5a3c" opacity="0.78" filter="url(#bl)"/><circle cx="105.4" cy="342.6" r="0.89" fill="#ef5a3c" opacity="0.74" filter="url(#bl)"/><circle cx="101.9" cy="336.2" r="0.96" fill="#ef5a3c" opacity="0.66" filter="url(#bl)"/><path d="M10.7,363.8 V349.5 M10.7,363.8 H23.8" stroke="#333" stroke-width="0.8" fill="none"/><path d="M9.1,349.9 L10.7,347.2 L12.3,349.9 Z M23.4,362.2 L26,363.8 L23.4,365.4 Z" fill="#333"/><text x="6.9" y="373.9" font-size="6.9" fill="#444" text-anchor="start" font-weight="normal" >UMAP1</text><text transform="translate(5.9,368.6) rotate(-90)" font-size="6.9" fill="#444">UMAP2</text><text x="107.6" y="355.4" font-size="8.8" fill="#333" text-anchor="start" font-weight="normal" >eRegulon score</text><defs><linearGradient id="gsc" x1="0" x2="1" y1="0" y2="0"><stop offset="0" stop-color="#c4c4c4"/><stop offset="0.5" stop-color="#ffffff"/><stop offset="1" stop-color="#e4261c"/></linearGradient><linearGradient id="trs" x1="0" x2="0" y1="0" y2="1"><stop offset="0" stop-color="#d01c1f"/><stop offset="0.23" stop-color="#e8706a"/><stop offset="0.42" stop-color="#f4c08c"/><stop offset="0.56" stop-color="#faeee0"/><stop offset="0.66" stop-color="#f4f9fb"/><stop offset="0.76" stop-color="#cde6f0"/><stop offset="1" stop-color="#2c62a2"/></linearGradient></defs><rect x="115" y="358.2" width="43.3" height="6.1" fill="url(#gsc)"/><text x="110.6" y="372.9" font-size="7.2" fill="#333" text-anchor="start" font-weight="normal" >Low</text><text x="148.9" y="372.9" font-size="7.2" fill="#333" text-anchor="start" font-weight="normal" >High</text><text x="183.6" y="207.6" font-size="12.5" fill="#111" text-anchor="start" font-weight="bold" stroke="#111" stroke-width="0.5">e</text><circle cx="220.4" cy="212" r="3.6" fill="#e47373"/><circle cx="242.6" cy="212" r="3.6" fill="#e47373"/><path d="M261.20000000000005,215 L264.6,209 L268.0,215 Z" fill="#4aaab4"/><path d="M283.3,215 L286.7,209 L290.09999999999997,215 Z" fill="#4aaab4"/><rect x="210.7" y="218.1" width="21.600000000000023" height="6" fill="#c98e7c" stroke="#444" stroke-width="0.6"/><rect x="232.3" y="218.1" width="21.599999999999994" height="6" fill="#6d947b" stroke="#444" stroke-width="0.6"/><rect x="253.9" y="218.1" width="21.599999999999994" height="6" fill="#c98e7c" stroke="#444" stroke-width="0.6"/><rect x="275.5" y="218.1" width="21.5" height="6" fill="#6d947b" stroke="#444" stroke-width="0.6"/><rect x="210.7" y="224.1" width="21.600000000000023" height="21.900000000000006" fill="#dc4a4a" stroke="#3a3a3a" stroke-width="0.8"/><polygon points="219.20,232.85 219.82,234.50 221.58,234.58 220.20,235.67 220.67,237.37 219.20,236.40 217.73,237.37 218.20,235.67 216.82,234.58 218.58,234.50" fill="#3a3a3a"/><polygon points="223.80,232.85 224.42,234.50 226.18,234.58 224.80,235.67 225.27,237.37 223.80,236.40 222.33,237.37 222.80,235.67 221.42,234.58 223.18,234.50" fill="#3a3a3a"/><rect x="232.3" y="224.1" width="21.599999999999994" height="21.900000000000006" fill="#d22b2b" stroke="#3a3a3a" stroke-width="0.8"/><polygon points="240.80,232.85 241.42,234.50 243.18,234.58 241.80,235.67 242.27,237.37 240.80,236.40 239.33,237.37 239.80,235.67 238.42,234.58 240.18,234.50" fill="#3a3a3a"/><polygon points="245.40,232.85 246.02,234.50 247.78,234.58 246.40,235.67 246.87,237.37 245.40,236.40 243.93,237.37 244.40,235.67 243.02,234.58 244.78,234.50" fill="#3a3a3a"/><rect x="253.9" y="224.1" width="21.599999999999994" height="21.900000000000006" fill="#f7dcc0" stroke="#3a3a3a" stroke-width="0.8"/><rect x="275.5" y="224.1" width="21.5" height="21.900000000000006" fill="#f9e6d3" stroke="#3a3a3a" stroke-width="0.8"/><rect x="210.7" y="246.0" width="21.600000000000023" height="21.399999999999977" fill="#e36363" stroke="#3a3a3a" stroke-width="0.8"/><polygon points="219.20,254.50 219.82,256.15 221.58,256.23 220.20,257.32 220.67,259.02 219.20,258.05 217.73,259.02 218.20,257.32 216.82,256.23 218.58,256.15" fill="#3a3a3a"/><polygon points="223.80,254.50 224.42,256.15 226.18,256.23 224.80,257.32 225.27,259.02 223.80,258.05 222.33,259.02 222.80,257.32 221.42,256.23 223.18,256.15" fill="#3a3a3a"/><rect x="232.3" y="246.0" width="21.599999999999994" height="21.399999999999977" fill="#e05e5e" stroke="#3a3a3a" stroke-width="0.8"/><polygon points="240.80,254.50 241.42,256.15 243.18,256.23 241.80,257.32 242.27,259.02 240.80,258.05 239.33,259.02 239.80,257.32 238.42,256.23 240.18,256.15" fill="#3a3a3a"/><polygon points="245.40,254.50 246.02,256.15 247.78,256.23 246.40,257.32 246.87,259.02 245.40,258.05 243.93,259.02 244.40,257.32 243.02,256.23 244.78,256.15" fill="#3a3a3a"/><rect x="253.9" y="246.0" width="21.599999999999994" height="21.399999999999977" fill="#ffffff" stroke="#3a3a3a" stroke-width="0.8"/><rect x="275.5" y="246.0" width="21.5" height="21.399999999999977" fill="#5a8bbd" stroke="#3a3a3a" stroke-width="0.8"/><rect x="210.7" y="267.4" width="21.600000000000023" height="21.30000000000001" fill="#e87474" stroke="#3a3a3a" stroke-width="0.8"/><polygon points="219.20,275.85 219.82,277.50 221.58,277.58 220.20,278.67 220.67,280.37 219.20,279.40 217.73,280.37 218.20,278.67 216.82,277.58 218.58,277.50" fill="#3a3a3a"/><polygon points="223.80,275.85 224.42,277.50 226.18,277.58 224.80,278.67 225.27,280.37 223.80,279.40 222.33,280.37 222.80,278.67 221.42,277.58 223.18,277.50" fill="#3a3a3a"/><rect x="232.3" y="267.4" width="21.599999999999994" height="21.30000000000001" fill="#ec8070" stroke="#3a3a3a" stroke-width="0.8"/><polygon points="243.10,275.85 243.72,277.50 245.48,277.58 244.10,278.67 244.57,280.37 243.10,279.40 241.63,280.37 242.10,278.67 240.72,277.58 242.48,277.50" fill="#3a3a3a"/><rect x="253.9" y="267.4" width="21.599999999999994" height="21.30000000000001" fill="#f6d4b2" stroke="#3a3a3a" stroke-width="0.8"/><rect x="275.5" y="267.4" width="21.5" height="21.30000000000001" fill="#eeae82" stroke="#3a3a3a" stroke-width="0.8"/><rect x="210.7" y="288.7" width="21.600000000000023" height="20.80000000000001" fill="#e46a6a" stroke="#3a3a3a" stroke-width="0.8"/><polygon points="219.20,296.90 219.82,298.55 221.58,298.63 220.20,299.72 220.67,301.42 219.20,300.45 217.73,301.42 218.20,299.72 216.82,298.63 218.58,298.55" fill="#3a3a3a"/><polygon points="223.80,296.90 224.42,298.55 226.18,298.63 224.80,299.72 225.27,301.42 223.80,300.45 222.33,301.42 222.80,299.72 221.42,298.63 223.18,298.55" fill="#3a3a3a"/><rect x="232.3" y="288.7" width="21.599999999999994" height="20.80000000000001" fill="#c8e6f0" stroke="#3a3a3a" stroke-width="0.8"/><rect x="253.9" y="288.7" width="21.599999999999994" height="20.80000000000001" fill="#f6d5b3" stroke="#3a3a3a" stroke-width="0.8"/><rect x="275.5" y="288.7" width="21.5" height="20.80000000000001" fill="#2e62a0" stroke="#3a3a3a" stroke-width="0.8"/><text x="208.2" y="236.35000000000002" font-size="7.2" fill="#333" text-anchor="end" font-weight="normal" >FOXO1</text><text x="208.2" y="258.0" font-size="7.2" fill="#333" text-anchor="end" font-weight="normal" >ZEB1</text><text x="208.2" y="279.34999999999997" font-size="7.2" fill="#333" text-anchor="end" font-weight="normal" >IKZF1</text><text x="208.2" y="300.40000000000003" font-size="7.2" fill="#333" text-anchor="end" font-weight="normal" >ZNF721</text><text x="301.7" y="223.9" font-size="8.2" fill="#333" text-anchor="start" font-weight="normal" >TRS</text><rect x="305.1" y="227.3" width="9.1" height="81.9" fill="url(#trs)"/><text x="316.3" y="232.70000000000002" font-size="7.7" fill="#333" text-anchor="start" font-weight="normal" >2.5</text><text x="316.3" y="251.1" font-size="7.7" fill="#333" text-anchor="start" font-weight="normal" >2.0</text><text x="316.3" y="270.0" font-size="7.7" fill="#333" text-anchor="start" font-weight="normal" >1.5</text><text x="316.3" y="289.2" font-size="7.7" fill="#333" text-anchor="start" font-weight="normal" >1.0</text><text x="316.3" y="308.4" font-size="7.7" fill="#333" text-anchor="start" font-weight="normal" >0.5</text><path d="M210.2,327.9 L213.9,321.5 L217.6,327.9 Z" fill="#4fb0b9"/><circle cx="213.9" cy="335.6" r="3.6" fill="#e47373"/><text x="221.6" y="327.5" font-size="9.3" fill="#333" text-anchor="start" font-weight="normal" >Monocytes</text><text x="222.7" y="338" font-size="9.2" fill="#333" text-anchor="start" font-weight="normal" >CD8<tspan font-size="5.5" dy="-3.5">+</tspan><tspan dy="3.5"> T cells</tspan></text><text x="286.2" y="327.5" font-size="8.6" fill="#333" text-anchor="start" font-weight="normal" textLength="39.4" lengthAdjust="spacingAndGlyphs">**<tspan font-style="italic">P</tspan> &lt; 0.01</text><text x="286.9" y="338" font-size="8.6" fill="#333" text-anchor="start" font-weight="normal" textLength="37.6" lengthAdjust="spacingAndGlyphs">*<tspan font-style="italic">P</tspan> &lt; 0.05</text><rect x="219" y="351.6" width="8" height="7" fill="#c98e7c" stroke="#444" stroke-width="0.6"/><rect x="219" y="364.2" width="8" height="7" fill="#6d947b" stroke="#444" stroke-width="0.6"/><text x="229.9" y="358" font-size="9.2" fill="#333" text-anchor="start" font-weight="normal" >Lymphocyte count</text><text x="229.9" y="370.5" font-size="9.2" fill="#333" text-anchor="start" font-weight="normal" >Lymphocyte percent</text><text x="338.4" y="208.9" font-size="12.5" fill="#111" text-anchor="start" font-weight="bold" stroke="#111" stroke-width="0.5">f</text><rect x="368.5" y="213.4" width="65.5" height="10.9" fill="#fff" stroke="#555" stroke-width="0.8"/><rect x="437.5" y="213.4" width="65.3" height="10.9" fill="#fff" stroke="#555" stroke-width="0.8"/><text x="402.2" y="222.2" font-size="9.3" fill="#333" text-anchor="middle" font-weight="normal" >CD8<tspan font-size="5.5" dy="-3.5">+</tspan><tspan dy="3.5"> T cells</tspan></text><text x="469.9" y="222.2" font-size="9.4" fill="#333" text-anchor="middle" font-weight="normal" >Monocytes</text><path d="M368.2,224.3 V347.3 H433.7 M437,347.3 H502.1" stroke="#555" stroke-width="0.8" fill="none"/><line x1="365.4" y1="247.4" x2="368.2" y2="247.4" stroke="#555" stroke-width="0.8"/><text x="362" y="250.0" font-size="7.2" fill="#333" text-anchor="end" font-weight="normal" >2</text><line x1="365.4" y1="276.5" x2="368.2" y2="276.5" stroke="#555" stroke-width="0.8"/><text x="362" y="279.1" font-size="7.2" fill="#333" text-anchor="end" font-weight="normal" >0</text><line x1="365.4" y1="305.3" x2="368.2" y2="305.3" stroke="#555" stroke-width="0.8"/><text x="362" y="307.90000000000003" font-size="7.2" fill="#333" text-anchor="end" font-weight="normal" >−2</text><line x1="365.4" y1="334.5" x2="368.2" y2="334.5" stroke="#555" stroke-width="0.8"/><text x="362" y="337.1" font-size="7.2" fill="#333" text-anchor="end" font-weight="normal" >−4</text><line x1="384.3" y1="347.3" x2="384.3" y2="350.2" stroke="#555" stroke-width="0.8"/><text x="382.8" y="359.8" font-size="7.2" fill="#333" text-anchor="middle" font-weight="normal" >−2</text><line x1="403.8" y1="347.3" x2="403.8" y2="350.2" stroke="#555" stroke-width="0.8"/><text x="403.8" y="359.8" font-size="7.2" fill="#333" text-anchor="middle" font-weight="normal" >0</text><line x1="423.1" y1="347.3" x2="423.1" y2="350.2" stroke="#555" stroke-width="0.8"/><text x="423.1" y="359.8" font-size="7.2" fill="#333" text-anchor="middle" font-weight="normal" >2</text><line x1="451.5" y1="347.3" x2="451.5" y2="350.2" stroke="#555" stroke-width="0.8"/><text x="450.0" y="359.8" font-size="7.2" fill="#333" text-anchor="middle" font-weight="normal" >−2</text><line x1="472.3" y1="347.3" x2="472.3" y2="350.2" stroke="#555" stroke-width="0.8"/><text x="472.3" y="359.8" font-size="7.2" fill="#333" text-anchor="middle" font-weight="normal" >0</text><line x1="491.5" y1="347.3" x2="491.5" y2="350.2" stroke="#555" stroke-width="0.8"/><text x="491.5" y="359.8" font-size="7.2" fill="#333" text-anchor="middle" font-weight="normal" >2</text><text x="437.2" y="372.6" font-size="8.9" fill="#333" text-anchor="middle" font-weight="normal" >Lymphocyte count (TRS)</text><text transform="translate(345.6,291.2) rotate(-90)" font-size="8.15" fill="#333" text-anchor="middle">Lymphocyte percent (TRS)</text><circle cx="385.0" cy="303.4" r="1.9" fill="#f27a7a" fill-opacity="0.75" stroke="#e85a5a" stroke-opacity="0.35" stroke-width="0.4"/><circle cx="384.5" cy="302.3" r="1.9" fill="#f27a7a" fill-opacity="0.75" stroke="#e85a5a" stroke-opacity="0.35" stroke-width="0.4"/><circle cx="385.2" cy="301.8" r="1.9" fill="#f27a7a" fill-opacity="0.75" stroke="#e85a5a" stroke-opacity="0.35" stroke-width="0.4"/><circle cx="386.1" cy="301.0" r="1.9" fill="#f27a7a" fill-opacity="0.75" stroke="#e85a5a" stroke-opacity="0.35" stroke-width="0.4"/><circle cx="386.5" cy="300.0" r="1.9" fill="#f27a7a" fill-opacity="0.75" stroke="#e85a5a" stroke-opacity="0.35" stroke-width="0.4"/><circle cx="385.9" cy="299.0" r="1.9" fill="#f27a7a" fill-opacity="0.75" stroke="#e85a5a" stroke-opacity="0.35" stroke-width="0.4"/><circle cx="386.3" cy="299.6" r="1.9" fill="#f27a7a" fill-opacity="0.75" stroke="#e85a5a" stroke-opacity="0.35" stroke-width="0.4"/><circle cx="387.7" cy="298.3" r="1.9" fill="#f27a7a" fill-opacity="0.75" stroke="#e85a5a" stroke-opacity="0.35" stroke-width="0.4"/><circle cx="388.2" cy="298.1" r="1.9" fill="#f27a7a" fill-opacity="0.75" stroke="#e85a5a" stroke-opacity="0.35" stroke-width="0.4"/><circle cx="388.8" cy="297.3" r="1.9" fill="#f27a7a" fill-opacity="0.75" stroke="#e85a5a" stroke-opacity="0.35" stroke-width="0.4"/><circle cx="388.5" cy="296.7" r="1.9" fill="#f27a7a" fill-opacity="0.75" stroke="#e85a5a" stroke-opacity="0.35" stroke-width="0.4"/><circle cx="389.4" cy="296.1" r="1.9" fill="#f27a7a" fill-opacity="0.75" stroke="#e85a5a" stroke-opacity="0.35" stroke-width="0.4"/><circle cx="389.4" cy="295.1" r="1.9" fill="#f27a7a" fill-opacity="0.75" stroke="#e85a5a" stroke-opacity="0.35" stroke-width="0.4"/><circle cx="389.8" cy="294.5" r="1.9" fill="#f27a7a" fill-opacity="0.75" stroke="#e85a5a" stroke-opacity="0.35" stroke-width="0.4"/><circle cx="390.6" cy="293.3" r="1.9" fill="#f27a7a" fill-opacity="0.75" stroke="#e85a5a" stroke-opacity="0.35" stroke-width="0.4"/><circle cx="390.1" cy="292.9" r="1.9" fill="#f27a7a" fill-opacity="0.75" stroke="#e85a5a" stroke-opacity="0.35" stroke-width="0.4"/><circle cx="391.2" cy="293.6" r="1.9" fill="#f27a7a" fill-opacity="0.75" stroke="#e85a5a" stroke-opacity="0.35" stroke-width="0.4"/><circle cx="391.0" cy="292.5" r="1.9" fill="#f27a7a" fill-opacity="0.75" stroke="#e85a5a" stroke-opacity="0.35" stroke-width="0.4"/><circle cx="391.9" cy="291.4" r="1.9" fill="#f27a7a" fill-opacity="0.75" stroke="#e85a5a" stroke-opacity="0.35" stroke-width="0.4"/><circle cx="392.8" cy="289.9" r="1.9" fill="#f27a7a" fill-opacity="0.75" stroke="#e85a5a" stroke-opacity="0.35" stroke-width="0.4"/><circle cx="392.9" cy="290.3" r="1.9" fill="#f27a7a" fill-opacity="0.75" stroke="#e85a5a" stroke-opacity="0.35" stroke-width="0.4"/><circle cx="393.1" cy="289.0" r="1.9" fill="#f27a7a" fill-opacity="0.75" stroke="#e85a5a" stroke-opacity="0.35" stroke-width="0.4"/><circle cx="394.5" cy="288.2" r="1.9" fill="#f27a7a" fill-opacity="0.75" stroke="#e85a5a" stroke-opacity="0.35" stroke-width="0.4"/><circle cx="395.0" cy="288.1" r="1.9" fill="#f27a7a" fill-opacity="0.75" stroke="#e85a5a" stroke-opacity="0.35" stroke-width="0.4"/><circle cx="395.6" cy="287.2" r="1.9" fill="#f27a7a" fill-opacity="0.75" stroke="#e85a5a" stroke-opacity="0.35" stroke-width="0.4"/><circle cx="394.5" cy="287.3" r="1.9" fill="#f27a7a" fill-opacity="0.75" stroke="#e85a5a" stroke-opacity="0.35" stroke-width="0.4"/><circle cx="395.1" cy="286.4" r="1.9" fill="#f27a7a" fill-opacity="0.75" stroke="#e85a5a" stroke-opacity="0.35" stroke-width="0.4"/><circle cx="396.5" cy="285.9" r="1.9" fill="#f27a7a" fill-opacity="0.75" stroke="#e85a5a" stroke-opacity="0.35" stroke-width="0.4"/><circle cx="396.2" cy="285.5" r="1.9" fill="#f27a7a" fill-opacity="0.75" stroke="#e85a5a" stroke-opacity="0.35" stroke-width="0.4"/><circle cx="397.4" cy="284.1" r="1.9" fill="#f27a7a" fill-opacity="0.75" stroke="#e85a5a" stroke-opacity="0.35" stroke-width="0.4"/><circle cx="397.9" cy="282.9" r="1.9" fill="#f27a7a" fill-opacity="0.75" stroke="#e85a5a" stroke-opacity="0.35" stroke-width="0.4"/><circle cx="397.7" cy="283.1" r="1.9" fill="#f27a7a" fill-opacity="0.75" stroke="#e85a5a" stroke-opacity="0.35" stroke-width="0.4"/><circle cx="398.8" cy="281.5" r="1.9" fill="#f27a7a" fill-opacity="0.75" stroke="#e85a5a" stroke-opacity="0.35" stroke-width="0.4"/><circle cx="398.5" cy="282.1" r="1.9" fill="#f27a7a" fill-opacity="0.75" stroke="#e85a5a" stroke-opacity="0.35" stroke-width="0.4"/><circle cx="398.2" cy="281.1" r="1.9" fill="#f27a7a" fill-opacity="0.75" stroke="#e85a5a" stroke-opacity="0.35" stroke-width="0.4"/><circle cx="399.7" cy="280.4" r="1.9" fill="#f27a7a" fill-opacity="0.75" stroke="#e85a5a" stroke-opacity="0.35" stroke-width="0.4"/><circle cx="398.7" cy="279.3" r="1.9" fill="#f27a7a" fill-opacity="0.75" stroke="#e85a5a" stroke-opacity="0.35" stroke-width="0.4"/><circle cx="399.6" cy="278.8" r="1.9" fill="#f27a7a" fill-opacity="0.75" stroke="#e85a5a" stroke-opacity="0.35" stroke-width="0.4"/><circle cx="401.5" cy="278.5" r="1.9" fill="#f27a7a" fill-opacity="0.75" stroke="#e85a5a" stroke-opacity="0.35" stroke-width="0.4"/><circle cx="401.7" cy="276.9" r="1.9" fill="#f27a7a" fill-opacity="0.75" stroke="#e85a5a" stroke-opacity="0.35" stroke-width="0.4"/><circle cx="401.2" cy="277.2" r="1.9" fill="#f27a7a" fill-opacity="0.75" stroke="#e85a5a" stroke-opacity="0.35" stroke-width="0.4"/><circle cx="402.0" cy="276.4" r="1.9" fill="#f27a7a" fill-opacity="0.75" stroke="#e85a5a" stroke-opacity="0.35" stroke-width="0.4"/><circle cx="402.3" cy="276.3" r="1.9" fill="#f27a7a" fill-opacity="0.75" stroke="#e85a5a" stroke-opacity="0.35" stroke-width="0.4"/><circle cx="402.7" cy="275.4" r="1.9" fill="#f27a7a" fill-opacity="0.75" stroke="#e85a5a" stroke-opacity="0.35" stroke-width="0.4"/><circle cx="402.8" cy="274.8" r="1.9" fill="#f27a7a" fill-opacity="0.75" stroke="#e85a5a" stroke-opacity="0.35" stroke-width="0.4"/><circle cx="403.4" cy="273.4" r="1.9" fill="#f27a7a" fill-opacity="0.75" stroke="#e85a5a" stroke-opacity="0.35" stroke-width="0.4"/><circle cx="403.5" cy="273.7" r="1.9" fill="#f27a7a" fill-opacity="0.75" stroke="#e85a5a" stroke-opacity="0.35" stroke-width="0.4"/><circle cx="405.0" cy="271.6" r="1.9" fill="#f27a7a" fill-opacity="0.75" stroke="#e85a5a" stroke-opacity="0.35" stroke-width="0.4"/><circle cx="404.5" cy="272.0" r="1.9" fill="#f27a7a" fill-opacity="0.75" stroke="#e85a5a" stroke-opacity="0.35" stroke-width="0.4"/><circle cx="404.8" cy="271.8" r="1.9" fill="#f27a7a" fill-opacity="0.75" stroke="#e85a5a" stroke-opacity="0.35" stroke-width="0.4"/><circle cx="405.8" cy="270.5" r="1.9" fill="#f27a7a" fill-opacity="0.75" stroke="#e85a5a" stroke-opacity="0.35" stroke-width="0.4"/><circle cx="405.9" cy="269.6" r="1.9" fill="#f27a7a" fill-opacity="0.75" stroke="#e85a5a" stroke-opacity="0.35" stroke-width="0.4"/><circle cx="407.0" cy="269.4" r="1.9" fill="#f27a7a" fill-opacity="0.75" stroke="#e85a5a" stroke-opacity="0.35" stroke-width="0.4"/><circle cx="407.5" cy="267.9" r="1.9" fill="#f27a7a" fill-opacity="0.75" stroke="#e85a5a" stroke-opacity="0.35" stroke-width="0.4"/><circle cx="407.0" cy="268.4" r="1.9" fill="#f27a7a" fill-opacity="0.75" stroke="#e85a5a" stroke-opacity="0.35" stroke-width="0.4"/><circle cx="407.0" cy="267.1" r="1.9" fill="#f27a7a" fill-opacity="0.75" stroke="#e85a5a" stroke-opacity="0.35" stroke-width="0.4"/><circle cx="408.1" cy="267.7" r="1.9" fill="#f27a7a" fill-opacity="0.75" stroke="#e85a5a" stroke-opacity="0.35" stroke-width="0.4"/><circle cx="409.2" cy="265.2" r="1.9" fill="#f27a7a" fill-opacity="0.75" stroke="#e85a5a" stroke-opacity="0.35" stroke-width="0.4"/><circle cx="409.0" cy="265.0" r="1.9" fill="#f27a7a" fill-opacity="0.75" stroke="#e85a5a" stroke-opacity="0.35" stroke-width="0.4"/><circle cx="409.3" cy="264.9" r="1.9" fill="#f27a7a" fill-opacity="0.75" stroke="#e85a5a" stroke-opacity="0.35" stroke-width="0.4"/><circle cx="409.5" cy="264.8" r="1.9" fill="#f27a7a" fill-opacity="0.75" stroke="#e85a5a" stroke-opacity="0.35" stroke-width="0.4"/><circle cx="410.7" cy="263.3" r="1.9" fill="#f27a7a" fill-opacity="0.75" stroke="#e85a5a" stroke-opacity="0.35" stroke-width="0.4"/><circle cx="411.9" cy="262.5" r="1.9" fill="#f27a7a" fill-opacity="0.75" stroke="#e85a5a" stroke-opacity="0.35" stroke-width="0.4"/><circle cx="411.0" cy="262.7" r="1.9" fill="#f27a7a" fill-opacity="0.75" stroke="#e85a5a" stroke-opacity="0.35" stroke-width="0.4"/><circle cx="411.5" cy="262.4" r="1.9" fill="#f27a7a" fill-opacity="0.75" stroke="#e85a5a" stroke-opacity="0.35" stroke-width="0.4"/><circle cx="412.3" cy="260.3" r="1.9" fill="#f27a7a" fill-opacity="0.75" stroke="#e85a5a" stroke-opacity="0.35" stroke-width="0.4"/><circle cx="412.4" cy="260.1" r="1.9" fill="#f27a7a" fill-opacity="0.75" stroke="#e85a5a" stroke-opacity="0.35" stroke-width="0.4"/><circle cx="413.4" cy="259.2" r="1.9" fill="#f27a7a" fill-opacity="0.75" stroke="#e85a5a" stroke-opacity="0.35" stroke-width="0.4"/><circle cx="412.9" cy="258.9" r="1.9" fill="#f27a7a" fill-opacity="0.75" stroke="#e85a5a" stroke-opacity="0.35" stroke-width="0.4"/><circle cx="413.2" cy="258.9" r="1.9" fill="#f27a7a" fill-opacity="0.75" stroke="#e85a5a" stroke-opacity="0.35" stroke-width="0.4"/><circle cx="413.7" cy="257.7" r="1.9" fill="#f27a7a" fill-opacity="0.75" stroke="#e85a5a" stroke-opacity="0.35" stroke-width="0.4"/><circle cx="414.5" cy="256.6" r="1.9" fill="#f27a7a" fill-opacity="0.75" stroke="#e85a5a" stroke-opacity="0.35" stroke-width="0.4"/><circle cx="415.2" cy="257.5" r="1.9" fill="#f27a7a" fill-opacity="0.75" stroke="#e85a5a" stroke-opacity="0.35" stroke-width="0.4"/><circle cx="415.8" cy="256.3" r="1.9" fill="#f27a7a" fill-opacity="0.75" stroke="#e85a5a" stroke-opacity="0.35" stroke-width="0.4"/><circle cx="415.5" cy="254.5" r="1.9" fill="#f27a7a" fill-opacity="0.75" stroke="#e85a5a" stroke-opacity="0.35" stroke-width="0.4"/><circle cx="416.1" cy="254.6" r="1.9" fill="#f27a7a" fill-opacity="0.75" stroke="#e85a5a" stroke-opacity="0.35" stroke-width="0.4"/><circle cx="416.3" cy="253.2" r="1.9" fill="#f27a7a" fill-opacity="0.75" stroke="#e85a5a" stroke-opacity="0.35" stroke-width="0.4"/><circle cx="416.2" cy="253.3" r="1.9" fill="#f27a7a" fill-opacity="0.75" stroke="#e85a5a" stroke-opacity="0.35" stroke-width="0.4"/><circle cx="417.5" cy="252.7" r="1.9" fill="#f27a7a" fill-opacity="0.75" stroke="#e85a5a" stroke-opacity="0.35" stroke-width="0.4"/><circle cx="417.6" cy="252.7" r="1.9" fill="#f27a7a" fill-opacity="0.75" stroke="#e85a5a" stroke-opacity="0.35" stroke-width="0.4"/><circle cx="417.8" cy="251.6" r="1.9" fill="#f27a7a" fill-opacity="0.75" stroke="#e85a5a" stroke-opacity="0.35" stroke-width="0.4"/><circle cx="418.4" cy="250.8" r="1.9" fill="#f27a7a" fill-opacity="0.75" stroke="#e85a5a" stroke-opacity="0.35" stroke-width="0.4"/><circle cx="419.3" cy="249.7" r="1.9" fill="#f27a7a" fill-opacity="0.75" stroke="#e85a5a" stroke-opacity="0.35" stroke-width="0.4"/><circle cx="418.9" cy="249.1" r="1.9" fill="#f27a7a" fill-opacity="0.75" stroke="#e85a5a" stroke-opacity="0.35" stroke-width="0.4"/><circle cx="420.2" cy="248.8" r="1.9" fill="#f27a7a" fill-opacity="0.75" stroke="#e85a5a" stroke-opacity="0.35" stroke-width="0.4"/><circle cx="420.8" cy="248.3" r="1.9" fill="#f27a7a" fill-opacity="0.75" stroke="#e85a5a" stroke-opacity="0.35" stroke-width="0.4"/><circle cx="419.7" cy="247.8" r="1.9" fill="#f27a7a" fill-opacity="0.75" stroke="#e85a5a" stroke-opacity="0.35" stroke-width="0.4"/><circle cx="420.8" cy="247.3" r="1.9" fill="#f27a7a" fill-opacity="0.75" stroke="#e85a5a" stroke-opacity="0.35" stroke-width="0.4"/><circle cx="421.5" cy="245.9" r="1.9" fill="#f27a7a" fill-opacity="0.75" stroke="#e85a5a" stroke-opacity="0.35" stroke-width="0.4"/><circle cx="421.9" cy="245.9" r="1.9" fill="#f27a7a" fill-opacity="0.75" stroke="#e85a5a" stroke-opacity="0.35" stroke-width="0.4"/><circle cx="421.8" cy="244.7" r="1.9" fill="#f27a7a" fill-opacity="0.75" stroke="#e85a5a" stroke-opacity="0.35" stroke-width="0.4"/><circle cx="423.2" cy="243.8" r="1.9" fill="#f27a7a" fill-opacity="0.75" stroke="#e85a5a" stroke-opacity="0.35" stroke-width="0.4"/><circle cx="422.6" cy="243.5" r="1.9" fill="#f27a7a" fill-opacity="0.75" stroke="#e85a5a" stroke-opacity="0.35" stroke-width="0.4"/><circle cx="423.0" cy="243.0" r="1.9" fill="#f27a7a" fill-opacity="0.75" stroke="#e85a5a" stroke-opacity="0.35" stroke-width="0.4"/><circle cx="424.6" cy="242.1" r="1.9" fill="#f27a7a" fill-opacity="0.75" stroke="#e85a5a" stroke-opacity="0.35" stroke-width="0.4"/><circle cx="424.8" cy="241.3" r="1.9" fill="#f27a7a" fill-opacity="0.75" stroke="#e85a5a" stroke-opacity="0.35" stroke-width="0.4"/><circle cx="425.6" cy="240.7" r="1.9" fill="#f27a7a" fill-opacity="0.75" stroke="#e85a5a" stroke-opacity="0.35" stroke-width="0.4"/><circle cx="425.4" cy="241.0" r="1.9" fill="#f27a7a" fill-opacity="0.75" stroke="#e85a5a" stroke-opacity="0.35" stroke-width="0.4"/><circle cx="425.4" cy="240.2" r="1.9" fill="#f27a7a" fill-opacity="0.75" stroke="#e85a5a" stroke-opacity="0.35" stroke-width="0.4"/><circle cx="426.3" cy="238.1" r="1.9" fill="#f27a7a" fill-opacity="0.75" stroke="#e85a5a" stroke-opacity="0.35" stroke-width="0.4"/><circle cx="411.2" cy="254.4" r="1.9" fill="#f27a7a" fill-opacity="0.75" stroke="#e85a5a" stroke-opacity="0.35" stroke-width="0.4"/><circle cx="420.3" cy="247.6" r="1.9" fill="#f27a7a" fill-opacity="0.75" stroke="#e85a5a" stroke-opacity="0.35" stroke-width="0.4"/><circle cx="418.0" cy="251.0" r="1.9" fill="#f27a7a" fill-opacity="0.75" stroke="#e85a5a" stroke-opacity="0.35" stroke-width="0.4"/><circle cx="423.0" cy="244.0" r="1.9" fill="#f27a7a" fill-opacity="0.75" stroke="#e85a5a" stroke-opacity="0.35" stroke-width="0.4"/><circle cx="421.0" cy="254.0" r="1.9" fill="#f27a7a" fill-opacity="0.75" stroke="#e85a5a" stroke-opacity="0.35" stroke-width="0.4"/><circle cx="425.0" cy="240.0" r="1.9" fill="#f27a7a" fill-opacity="0.75" stroke="#e85a5a" stroke-opacity="0.35" stroke-width="0.4"/><circle cx="416.0" cy="247.0" r="1.9" fill="#f27a7a" fill-opacity="0.75" stroke="#e85a5a" stroke-opacity="0.35" stroke-width="0.4"/><circle cx="419.0" cy="243.0" r="1.9" fill="#f27a7a" fill-opacity="0.75" stroke="#e85a5a" stroke-opacity="0.35" stroke-width="0.4"/><circle cx="423.5" cy="249.0" r="1.9" fill="#f27a7a" fill-opacity="0.75" stroke="#e85a5a" stroke-opacity="0.35" stroke-width="0.4"/><circle cx="427.5" cy="236.8" r="1.9" fill="#f27a7a" fill-opacity="0.75" stroke="#e85a5a" stroke-opacity="0.35" stroke-width="0.4"/><circle cx="415.8" cy="250.0" r="1.9" fill="#f27a7a" fill-opacity="0.75" stroke="#e85a5a" stroke-opacity="0.35" stroke-width="0.4"/><circle cx="422.0" cy="246.0" r="1.9" fill="#f27a7a" fill-opacity="0.75" stroke="#e85a5a" stroke-opacity="0.35" stroke-width="0.4"/><line x1="384.3" y1="303.5" x2="428" y2="236" stroke="#e43838" stroke-width="1.0" stroke-dasharray="2.6 2.2"/><circle cx="491.1" cy="233.6" r="1.9" fill="#2fb4bd" fill-opacity="0.82" stroke="#17959d" stroke-opacity="0.6" stroke-width="0.45"/><circle cx="497.8" cy="234.7" r="1.9" fill="#2fb4bd" fill-opacity="0.82" stroke="#17959d" stroke-opacity="0.6" stroke-width="0.45"/><circle cx="499.7" cy="244.8" r="1.9" fill="#2fb4bd" fill-opacity="0.82" stroke="#17959d" stroke-opacity="0.6" stroke-width="0.45"/><circle cx="480.2" cy="244.0" r="1.9" fill="#2fb4bd" fill-opacity="0.82" stroke="#17959d" stroke-opacity="0.6" stroke-width="0.45"/><circle cx="482.6" cy="247.2" r="1.9" fill="#2fb4bd" fill-opacity="0.82" stroke="#17959d" stroke-opacity="0.6" stroke-width="0.45"/><circle cx="485.8" cy="248.0" r="1.9" fill="#2fb4bd" fill-opacity="0.82" stroke="#17959d" stroke-opacity="0.6" stroke-width="0.45"/><circle cx="488.2" cy="249.6" r="1.9" fill="#2fb4bd" fill-opacity="0.82" stroke="#17959d" stroke-opacity="0.6" stroke-width="0.45"/><circle cx="471.4" cy="254.4" r="1.9" fill="#2fb4bd" fill-opacity="0.82" stroke="#17959d" stroke-opacity="0.6" stroke-width="0.45"/><circle cx="474.6" cy="253.6" r="1.9" fill="#2fb4bd" fill-opacity="0.82" stroke="#17959d" stroke-opacity="0.6" stroke-width="0.45"/><circle cx="478.6" cy="252.8" r="1.9" fill="#2fb4bd" fill-opacity="0.82" stroke="#17959d" stroke-opacity="0.6" stroke-width="0.45"/><circle cx="481.8" cy="254.4" r="1.9" fill="#2fb4bd" fill-opacity="0.82" stroke="#17959d" stroke-opacity="0.6" stroke-width="0.45"/><circle cx="485.8" cy="256.0" r="1.9" fill="#2fb4bd" fill-opacity="0.82" stroke="#17959d" stroke-opacity="0.6" stroke-width="0.45"/><circle cx="487.4" cy="258.4" r="1.9" fill="#2fb4bd" fill-opacity="0.82" stroke="#17959d" stroke-opacity="0.6" stroke-width="0.45"/><circle cx="469.0" cy="259.2" r="1.9" fill="#2fb4bd" fill-opacity="0.82" stroke="#17959d" stroke-opacity="0.6" stroke-width="0.45"/><circle cx="478.6" cy="258.4" r="1.9" fill="#2fb4bd" fill-opacity="0.82" stroke="#17959d" stroke-opacity="0.6" stroke-width="0.45"/><circle cx="482.6" cy="260.0" r="1.9" fill="#2fb4bd" fill-opacity="0.82" stroke="#17959d" stroke-opacity="0.6" stroke-width="0.45"/><circle cx="471.4" cy="263.2" r="1.9" fill="#2fb4bd" fill-opacity="0.82" stroke="#17959d" stroke-opacity="0.6" stroke-width="0.45"/><circle cx="475.4" cy="264.0" r="1.9" fill="#2fb4bd" fill-opacity="0.82" stroke="#17959d" stroke-opacity="0.6" stroke-width="0.45"/><circle cx="480.2" cy="264.8" r="1.9" fill="#2fb4bd" fill-opacity="0.82" stroke="#17959d" stroke-opacity="0.6" stroke-width="0.45"/><circle cx="469.8" cy="267.2" r="1.9" fill="#2fb4bd" fill-opacity="0.82" stroke="#17959d" stroke-opacity="0.6" stroke-width="0.45"/><circle cx="473.8" cy="268.0" r="1.9" fill="#2fb4bd" fill-opacity="0.82" stroke="#17959d" stroke-opacity="0.6" stroke-width="0.45"/><circle cx="481.8" cy="268.0" r="1.9" fill="#2fb4bd" fill-opacity="0.82" stroke="#17959d" stroke-opacity="0.6" stroke-width="0.45"/><circle cx="471.4" cy="270.4" r="1.9" fill="#2fb4bd" fill-opacity="0.82" stroke="#17959d" stroke-opacity="0.6" stroke-width="0.45"/><circle cx="477.0" cy="271.2" r="1.9" fill="#2fb4bd" fill-opacity="0.82" stroke="#17959d" stroke-opacity="0.6" stroke-width="0.45"/><circle cx="481.0" cy="272.0" r="1.9" fill="#2fb4bd" fill-opacity="0.82" stroke="#17959d" stroke-opacity="0.6" stroke-width="0.45"/><circle cx="473.0" cy="274.4" r="1.9" fill="#2fb4bd" fill-opacity="0.82" stroke="#17959d" stroke-opacity="0.6" stroke-width="0.45"/><circle cx="479.4" cy="273.6" r="1.9" fill="#2fb4bd" fill-opacity="0.82" stroke="#17959d" stroke-opacity="0.6" stroke-width="0.45"/><circle cx="485.8" cy="275.2" r="1.9" fill="#2fb4bd" fill-opacity="0.82" stroke="#17959d" stroke-opacity="0.6" stroke-width="0.45"/><circle cx="475.4" cy="276.0" r="1.9" fill="#2fb4bd" fill-opacity="0.82" stroke="#17959d" stroke-opacity="0.6" stroke-width="0.45"/><circle cx="465.8" cy="280.8" r="1.9" fill="#2fb4bd" fill-opacity="0.82" stroke="#17959d" stroke-opacity="0.6" stroke-width="0.45"/><circle cx="472.2" cy="280.0" r="1.9" fill="#2fb4bd" fill-opacity="0.82" stroke="#17959d" stroke-opacity="0.6" stroke-width="0.45"/><circle cx="478.6" cy="280.8" r="1.9" fill="#2fb4bd" fill-opacity="0.82" stroke="#17959d" stroke-opacity="0.6" stroke-width="0.45"/><circle cx="481.8" cy="281.1" r="1.9" fill="#2fb4bd" fill-opacity="0.82" stroke="#17959d" stroke-opacity="0.6" stroke-width="0.45"/><circle cx="469.0" cy="283.2" r="1.9" fill="#2fb4bd" fill-opacity="0.82" stroke="#17959d" stroke-opacity="0.6" stroke-width="0.45"/><circle cx="473.0" cy="283.2" r="1.9" fill="#2fb4bd" fill-opacity="0.82" stroke="#17959d" stroke-opacity="0.6" stroke-width="0.45"/><circle cx="469.0" cy="286.4" r="1.9" fill="#2fb4bd" fill-opacity="0.82" stroke="#17959d" stroke-opacity="0.6" stroke-width="0.45"/><circle cx="468.3" cy="295.0" r="1.9" fill="#2fb4bd" fill-opacity="0.82" stroke="#17959d" stroke-opacity="0.6" stroke-width="0.45"/><circle cx="464.3" cy="297.7" r="1.9" fill="#2fb4bd" fill-opacity="0.82" stroke="#17959d" stroke-opacity="0.6" stroke-width="0.45"/><circle cx="468.3" cy="291.7" r="1.9" fill="#2fb4bd" fill-opacity="0.82" stroke="#17959d" stroke-opacity="0.6" stroke-width="0.45"/><circle cx="463.3" cy="303.3" r="1.9" fill="#2fb4bd" fill-opacity="0.82" stroke="#17959d" stroke-opacity="0.6" stroke-width="0.45"/><circle cx="450.0" cy="311.0" r="1.9" fill="#2fb4bd" fill-opacity="0.82" stroke="#17959d" stroke-opacity="0.6" stroke-width="0.45"/><circle cx="456.7" cy="312.3" r="1.9" fill="#2fb4bd" fill-opacity="0.82" stroke="#17959d" stroke-opacity="0.6" stroke-width="0.45"/><circle cx="458.3" cy="315.0" r="1.9" fill="#2fb4bd" fill-opacity="0.82" stroke="#17959d" stroke-opacity="0.6" stroke-width="0.45"/><circle cx="452.3" cy="318.3" r="1.9" fill="#2fb4bd" fill-opacity="0.82" stroke="#17959d" stroke-opacity="0.6" stroke-width="0.45"/><circle cx="440.2" cy="341.9" r="1.9" fill="#2fb4bd" fill-opacity="0.82" stroke="#17959d" stroke-opacity="0.6" stroke-width="0.45"/><circle cx="476.0" cy="262.0" r="1.9" fill="#2fb4bd" fill-opacity="0.82" stroke="#17959d" stroke-opacity="0.6" stroke-width="0.45"/><circle cx="484.0" cy="252.0" r="1.9" fill="#2fb4bd" fill-opacity="0.82" stroke="#17959d" stroke-opacity="0.6" stroke-width="0.45"/><circle cx="470.0" cy="276.0" r="1.9" fill="#2fb4bd" fill-opacity="0.82" stroke="#17959d" stroke-opacity="0.6" stroke-width="0.45"/><circle cx="477.0" cy="286.0" r="1.9" fill="#2fb4bd" fill-opacity="0.82" stroke="#17959d" stroke-opacity="0.6" stroke-width="0.45"/><circle cx="483.0" cy="266.0" r="1.9" fill="#2fb4bd" fill-opacity="0.82" stroke="#17959d" stroke-opacity="0.6" stroke-width="0.45"/><circle cx="474.0" cy="266.0" r="1.9" fill="#2fb4bd" fill-opacity="0.82" stroke="#17959d" stroke-opacity="0.6" stroke-width="0.45"/><circle cx="478.0" cy="276.0" r="1.9" fill="#2fb4bd" fill-opacity="0.82" stroke="#17959d" stroke-opacity="0.6" stroke-width="0.45"/><circle cx="472.0" cy="278.0" r="1.9" fill="#2fb4bd" fill-opacity="0.82" stroke="#17959d" stroke-opacity="0.6" stroke-width="0.45"/><circle cx="476.0" cy="270.0" r="1.9" fill="#2fb4bd" fill-opacity="0.82" stroke="#17959d" stroke-opacity="0.6" stroke-width="0.45"/><circle cx="480.0" cy="262.0" r="1.9" fill="#2fb4bd" fill-opacity="0.82" stroke="#17959d" stroke-opacity="0.6" stroke-width="0.45"/><circle cx="486.0" cy="262.0" r="1.9" fill="#2fb4bd" fill-opacity="0.82" stroke="#17959d" stroke-opacity="0.6" stroke-width="0.45"/><circle cx="474.0" cy="258.0" r="1.9" fill="#2fb4bd" fill-opacity="0.82" stroke="#17959d" stroke-opacity="0.6" stroke-width="0.45"/><circle cx="471.0" cy="287.0" r="1.9" fill="#2fb4bd" fill-opacity="0.82" stroke="#17959d" stroke-opacity="0.6" stroke-width="0.45"/><circle cx="468.0" cy="272.0" r="1.9" fill="#2fb4bd" fill-opacity="0.82" stroke="#17959d" stroke-opacity="0.6" stroke-width="0.45"/><circle cx="479.0" cy="284.0" r="1.9" fill="#2fb4bd" fill-opacity="0.82" stroke="#17959d" stroke-opacity="0.6" stroke-width="0.45"/><line x1="440" y1="329.5" x2="499.1" y2="231.1" stroke="#1a8c8c" stroke-width="1.1" stroke-dasharray="5 4"/><text x="370.9" y="314.4" font-size="6.9" fill="#333" text-anchor="start" font-weight="normal" ><tspan font-style="italic">r</tspan> = 0.993, <tspan font-style="italic">P</tspan> = 2.3 × 10<tspan font-size="4.4" dy="-3.2">−70</tspan></text><text x="437.5" y="337" font-size="6.9" fill="#333" text-anchor="start" font-weight="normal" ><tspan font-style="italic">r</tspan> = 0.846, <tspan font-style="italic">P</tspan> = 7.4 × 10<tspan font-size="4.4" dy="-3.2">−22</tspan></text><text x="520.8" y="207" font-size="12.5" fill="#111" text-anchor="start" font-weight="bold" stroke="#111" stroke-width="0.5">g</text><text x="568.2" y="219.5" font-size="8.4" fill="#333" text-anchor="start" font-weight="normal" >OR = 1.21, <tspan font-style="italic">P</tspan> = 4.33 × 10<tspan font-size="6" dy="-3.5">−5</tspan></text><line x1="583.2" y1="225.5" x2="583.2" y2="344.6" stroke="#eaecef" stroke-width="0.7"/><line x1="646.8" y1="225.5" x2="646.8" y2="344.6" stroke="#eaecef" stroke-width="0.7"/><line x1="544.9" y1="234.2" x2="683.5" y2="234.2" stroke="#eaecef" stroke-width="0.7"/><line x1="544.9" y1="252.9" x2="683.5" y2="252.9" stroke="#eaecef" stroke-width="0.7"/><line x1="544.9" y1="271.6" x2="683.5" y2="271.6" stroke="#eaecef" stroke-width="0.7"/><line x1="544.9" y1="290.3" x2="683.5" y2="290.3" stroke="#eaecef" stroke-width="0.7"/><line x1="544.9" y1="309.2" x2="683.5" y2="309.2" stroke="#eaecef" stroke-width="0.7"/><line x1="544.9" y1="328.0" x2="683.5" y2="328.0" stroke="#eaecef" stroke-width="0.7"/><text x="541.7" y="255.0" font-size="7.2" fill="#333" text-anchor="end" font-weight="normal" >1.2</text><text x="541.7" y="292.90000000000003" font-size="7.2" fill="#333" text-anchor="end" font-weight="normal" >1.1</text><text x="541.7" y="330.6" font-size="7.2" fill="#333" text-anchor="end" font-weight="normal" >1.0</text><text transform="translate(527.6,285.7) rotate(-90)" font-size="9.2" fill="#333" text-anchor="middle">E-statistics</text><line x1="583.2" y1="298.5" x2="583.2" y2="339.6" stroke="#555" stroke-width="0.7"/><line x1="646.8" y1="230.3" x2="646.8" y2="257.3" stroke="#555" stroke-width="0.7"/><rect x="566.9" y="323.1" width="32.2" height="16.5" fill="#c8c8c8" stroke="#666" stroke-width="0.7"/><line x1="566.9" y1="337" x2="599.1" y2="337" stroke="#666" stroke-width="0.7"/><rect x="630.8" y="243.9" width="31.7" height="8.8" fill="#a8d8e8" stroke="#666" stroke-width="0.7"/><line x1="630.8" y1="247.1" x2="662.5" y2="247.1" stroke="#666" stroke-width="0.7"/><line x1="583.2" y1="298.5" x2="646.8" y2="234.6" stroke="#a8a8a8" stroke-width="0.8"/><line x1="583.2" y1="306.6" x2="646.8" y2="244.9" stroke="#a8a8a8" stroke-width="0.8"/><line x1="583.2" y1="323.1" x2="646.8" y2="249" stroke="#a8a8a8" stroke-width="0.8"/><line x1="583.2" y1="330.7" x2="646.8" y2="315.5" stroke="#a8a8a8" stroke-width="0.8"/><line x1="583.2" y1="336.3" x2="646.8" y2="230.3" stroke="#a8a8a8" stroke-width="0.8"/><line x1="583.2" y1="338.8" x2="646.8" y2="243.9" stroke="#a8a8a8" stroke-width="0.8"/><line x1="583.2" y1="340.3" x2="646.8" y2="246.1" stroke="#a8a8a8" stroke-width="0.8"/><line x1="583.2" y1="339.5" x2="646.8" y2="248" stroke="#a8a8a8" stroke-width="0.8"/><line x1="583.2" y1="337.5" x2="646.8" y2="252.7" stroke="#a8a8a8" stroke-width="0.8"/><line x1="583.2" y1="334.5" x2="646.8" y2="257.3" stroke="#a8a8a8" stroke-width="0.8"/><circle cx="583.2" cy="298.5" r="1.7" fill="#111"/><circle cx="646.8" cy="234.6" r="1.7" fill="#111"/><circle cx="583.2" cy="306.6" r="1.7" fill="#111"/><circle cx="646.8" cy="244.9" r="1.7" fill="#111"/><circle cx="583.2" cy="323.1" r="1.7" fill="#111"/><circle cx="646.8" cy="249" r="1.7" fill="#111"/><circle cx="583.2" cy="330.7" r="1.7" fill="#111"/><circle cx="646.8" cy="315.5" r="1.7" fill="#111"/><circle cx="583.2" cy="336.3" r="1.7" fill="#111"/><circle cx="646.8" cy="230.3" r="1.7" fill="#111"/><circle cx="583.2" cy="338.8" r="1.7" fill="#111"/><circle cx="646.8" cy="243.9" r="1.7" fill="#111"/><circle cx="583.2" cy="340.3" r="1.7" fill="#111"/><circle cx="646.8" cy="246.1" r="1.7" fill="#111"/><circle cx="583.2" cy="339.5" r="1.7" fill="#111"/><circle cx="646.8" cy="248" r="1.7" fill="#111"/><circle cx="583.2" cy="337.5" r="1.7" fill="#111"/><circle cx="646.8" cy="252.7" r="1.7" fill="#111"/><circle cx="583.2" cy="334.5" r="1.7" fill="#111"/><circle cx="646.8" cy="257.3" r="1.7" fill="#111"/><text x="581.1" y="355.4" font-size="7.6" fill="#333" text-anchor="middle" font-weight="normal" >scMORE (average)</text><text x="651.2" y="355.4" font-size="7.6" fill="#333" text-anchor="middle" font-weight="normal" >scMORE (cosine)</text><text x="619.2" y="369.2" font-size="9.2" fill="#333" text-anchor="middle" font-weight="normal" >10 blood cell traits</text>
</svg></body></html>
